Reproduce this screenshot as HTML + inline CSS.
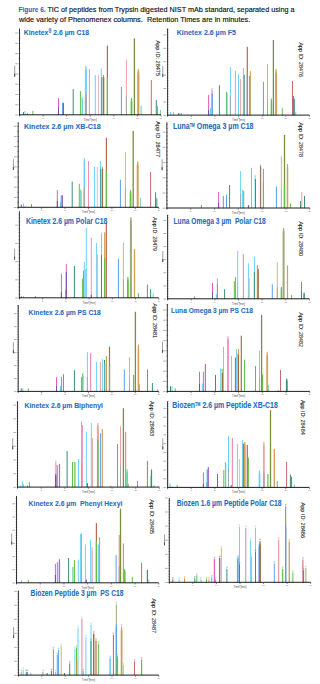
<!DOCTYPE html>
<html><head><meta charset="utf-8"><style>
html,body{margin:0;padding:0;background:#fff;width:319px;height:684px;overflow:hidden}
svg{position:absolute;left:0;top:0} text{white-space:pre;font-family:"Liberation Sans",sans-serif}
</style></head><body>
<svg width="319" height="684" viewBox="0 0 319 684">
<text x="18.6" y="11.8" font-weight="bold" font-size="8.0" fill="#1f6cc1" stroke="#1f6cc1" stroke-width="0.1" textLength="27" lengthAdjust="spacingAndGlyphs">Figure 6.</text>
<text x="47.4" y="11.8" font-size="8.0" fill="#111" stroke="#111" stroke-width="0.16" textLength="247.1" lengthAdjust="spacingAndGlyphs">TIC of peptides from Trypsin digested NIST mAb standard, separated using a</text>
<text x="19" y="21.9" font-size="8.0" fill="#111" stroke="#111" stroke-width="0.16" textLength="231.3" lengthAdjust="spacingAndGlyphs">wide variety of Phenomenex columns.  Retention Times are in minutes.</text>
<rect x="23.00" y="112.00" width="1.00" height="3.00" fill="#3a9078"/>
<rect x="24.50" y="111.00" width="1.00" height="4.00" fill="#6ad2f8"/>
<rect x="26.90" y="113.00" width="1.00" height="2.00" fill="#e88830"/>
<rect x="32.30" y="111.00" width="1.00" height="4.00" fill="#60c048"/>
<rect x="58.00" y="98.10" width="1.00" height="16.90" fill="#e060c0"/>
<rect x="58.00" y="107.00" width="1.00" height="8.00" fill="#7050a8"/>
<rect x="62.10" y="102.80" width="1.00" height="12.20" fill="#5aa0f0"/>
<rect x="62.90" y="102.80" width="1.00" height="12.20" fill="#7050a8"/>
<rect x="72.70" y="89.00" width="1.00" height="26.00" fill="#3a9078"/>
<rect x="79.90" y="91.00" width="1.00" height="24.00" fill="#60c048"/>
<rect x="81.50" y="96.80" width="1.00" height="18.20" fill="#70d8a0"/>
<rect x="82.10" y="99.00" width="1.00" height="16.00" fill="#6ad2f8"/>
<polygon points="85.45,66.00 86.35,66.00 86.90,71.00 86.90,115.0 84.90,115.0 84.90,71.00" fill="#6ad2f8"/>
<polygon points="85.45,93.00 86.35,93.00 86.90,98.00 86.90,115.0 84.90,115.0 84.90,98.00" fill="#a8a8a8"/>
<rect x="88.90" y="69.00" width="1.00" height="46.00" fill="#f090b4"/>
<rect x="94.80" y="75.00" width="1.00" height="40.00" fill="#6ad2f8"/>
<rect x="98.00" y="75.00" width="1.00" height="40.00" fill="#f4b4c8"/>
<rect x="100.80" y="68.60" width="1.00" height="46.40" fill="#6ad2f8"/>
<rect x="101.40" y="77.00" width="1.00" height="38.00" fill="#3a9078"/>
<rect x="103.00" y="75.00" width="1.00" height="40.00" fill="#5aa0f0"/>
<rect x="103.30" y="77.00" width="1.00" height="38.00" fill="#a06838"/>
<rect x="106.80" y="45.60" width="1.20" height="69.40" fill="#b86850"/>
<rect x="106.80" y="77.70" width="1.20" height="37.30" fill="#60c048"/>
<rect x="120.90" y="87.00" width="1.00" height="28.00" fill="#5aa0f0"/>
<rect x="125.90" y="59.70" width="1.00" height="55.30" fill="#eca4a0"/>
<rect x="125.90" y="96.00" width="1.00" height="19.00" fill="#a8a8a8"/>
<polygon points="131.05,98.00 131.95,98.00 132.40,102.25 132.40,115.0 130.60,115.0 130.60,102.25" fill="#60c048"/>
<rect x="133.75" y="38.30" width="1.30" height="76.70" fill="#789040"/>
<polygon points="137.85,69.00 138.75,69.00 139.40,74.00 139.40,115.0 137.20,115.0 137.20,74.00" fill="#d0a058"/>
<rect x="140.60" y="105.60" width="1.00" height="9.40" fill="#70d8a0"/>
<rect x="150.80" y="80.00" width="1.00" height="35.00" fill="#c86a6a"/>
<rect x="155.80" y="100.00" width="1.00" height="15.00" fill="#3a9078"/>
<rect x="156.90" y="106.00" width="1.00" height="9.00" fill="#60c048"/>
<rect x="159.90" y="110.00" width="1.00" height="5.00" fill="#70d8a0"/>
<line x1="18.70" y1="115.00" x2="20.30" y2="115.00" stroke="#555" stroke-width="0.6"/>
<line x1="18.70" y1="109.88" x2="20.30" y2="109.88" stroke="#555" stroke-width="0.6"/>
<line x1="18.70" y1="104.75" x2="20.30" y2="104.75" stroke="#555" stroke-width="0.6"/>
<line x1="18.70" y1="99.62" x2="20.30" y2="99.62" stroke="#555" stroke-width="0.6"/>
<line x1="18.70" y1="94.50" x2="20.30" y2="94.50" stroke="#555" stroke-width="0.6"/>
<line x1="18.70" y1="89.38" x2="20.30" y2="89.38" stroke="#555" stroke-width="0.6"/>
<line x1="18.70" y1="84.25" x2="20.30" y2="84.25" stroke="#555" stroke-width="0.6"/>
<line x1="18.70" y1="79.12" x2="20.30" y2="79.12" stroke="#555" stroke-width="0.6"/>
<line x1="18.70" y1="74.00" x2="20.30" y2="74.00" stroke="#555" stroke-width="0.6"/>
<line x1="18.70" y1="68.88" x2="20.30" y2="68.88" stroke="#555" stroke-width="0.6"/>
<line x1="18.70" y1="63.75" x2="20.30" y2="63.75" stroke="#555" stroke-width="0.6"/>
<line x1="18.70" y1="58.62" x2="20.30" y2="58.62" stroke="#555" stroke-width="0.6"/>
<line x1="18.70" y1="53.50" x2="20.30" y2="53.50" stroke="#555" stroke-width="0.6"/>
<line x1="18.70" y1="48.38" x2="20.30" y2="48.38" stroke="#555" stroke-width="0.6"/>
<line x1="18.70" y1="43.25" x2="20.30" y2="43.25" stroke="#555" stroke-width="0.6"/>
<line x1="18.70" y1="38.12" x2="20.30" y2="38.12" stroke="#555" stroke-width="0.6"/>
<line x1="18.70" y1="33.00" x2="20.30" y2="33.00" stroke="#555" stroke-width="0.6"/>
<line x1="15.30" y1="115.00" x2="17.90" y2="115.00" stroke="#999" stroke-width="0.8"/>
<line x1="15.30" y1="104.75" x2="17.90" y2="104.75" stroke="#999" stroke-width="0.8"/>
<line x1="15.30" y1="94.50" x2="17.90" y2="94.50" stroke="#999" stroke-width="0.8"/>
<line x1="15.30" y1="84.25" x2="17.90" y2="84.25" stroke="#999" stroke-width="0.8"/>
<line x1="15.30" y1="74.00" x2="17.90" y2="74.00" stroke="#999" stroke-width="0.8"/>
<line x1="15.30" y1="63.75" x2="17.90" y2="63.75" stroke="#999" stroke-width="0.8"/>
<line x1="15.30" y1="53.50" x2="17.90" y2="53.50" stroke="#999" stroke-width="0.8"/>
<line x1="15.30" y1="43.25" x2="17.90" y2="43.25" stroke="#999" stroke-width="0.8"/>
<line x1="15.30" y1="33.00" x2="17.90" y2="33.00" stroke="#999" stroke-width="0.8"/>
<line x1="14.70" y1="65.75" x2="14.70" y2="76.75" stroke="#888" stroke-width="0.8"/>
<line x1="14.70" y1="73.75" x2="14.70" y2="76.75" stroke="#444" stroke-width="0.9"/>
<line x1="19.5" y1="28.5" x2="19.5" y2="115.5" stroke="#333" stroke-width="1.0"/>
<line x1="19.0" y1="114.80" x2="161.0" y2="114.80" stroke="#111" stroke-width="0.95"/>
<line x1="19.50" y1="115.0" x2="19.50" y2="116.5" stroke="#333" stroke-width="0.6"/>
<line x1="43.08" y1="115.0" x2="43.08" y2="116.5" stroke="#333" stroke-width="0.6"/>
<text x="43.08" y="118.60" font-size="2.4" fill="#888" text-anchor="middle">5</text>
<line x1="66.67" y1="115.0" x2="66.67" y2="116.5" stroke="#333" stroke-width="0.6"/>
<text x="66.67" y="118.60" font-size="2.4" fill="#888" text-anchor="middle">10</text>
<line x1="90.25" y1="115.0" x2="90.25" y2="116.5" stroke="#333" stroke-width="0.6"/>
<text x="90.25" y="118.60" font-size="2.4" fill="#888" text-anchor="middle">15</text>
<line x1="113.83" y1="115.0" x2="113.83" y2="116.5" stroke="#333" stroke-width="0.6"/>
<text x="113.83" y="118.60" font-size="2.4" fill="#888" text-anchor="middle">20</text>
<line x1="137.42" y1="115.0" x2="137.42" y2="116.5" stroke="#333" stroke-width="0.6"/>
<text x="137.42" y="118.60" font-size="2.4" fill="#888" text-anchor="middle">25</text>
<line x1="161.00" y1="115.0" x2="161.00" y2="116.5" stroke="#333" stroke-width="0.6"/>
<text x="161.00" y="118.60" font-size="2.4" fill="#888" text-anchor="middle">30</text>
<text x="90.25" y="120.60" font-size="2.8" fill="#555" text-anchor="middle">Time [min]</text>
<rect x="170.00" y="112.00" width="1.00" height="3.30" fill="#6ad2f8"/>
<rect x="173.10" y="112.00" width="1.00" height="3.30" fill="#6ad2f8"/>
<rect x="178.30" y="113.00" width="1.00" height="2.30" fill="#7050a8"/>
<rect x="180.60" y="113.00" width="1.00" height="2.30" fill="#60c048"/>
<rect x="208.10" y="95.00" width="1.00" height="20.30" fill="#e060c0"/>
<rect x="208.10" y="110.00" width="1.00" height="5.30" fill="#7050a8"/>
<rect x="210.00" y="108.30" width="1.00" height="7.00" fill="#6ad2f8"/>
<polygon points="211.55,87.90 212.45,87.90 213.00,92.90 213.00,115.3 211.00,115.3 211.00,92.90" fill="#d8b0e4"/>
<rect x="211.80" y="93.40" width="1.00" height="21.90" fill="#5aa0f0"/>
<rect x="218.90" y="85.20" width="1.00" height="30.10" fill="#3a9078"/>
<rect x="226.00" y="91.80" width="1.00" height="23.50" fill="#60c048"/>
<rect x="226.70" y="93.00" width="1.00" height="22.30" fill="#6ad2f8"/>
<rect x="229.90" y="67.10" width="1.00" height="48.20" fill="#6ad2f8"/>
<rect x="229.90" y="95.70" width="1.00" height="19.60" fill="#a8a8a8"/>
<rect x="234.90" y="71.10" width="1.00" height="44.20" fill="#f090b4"/>
<rect x="238.00" y="74.30" width="1.00" height="41.00" fill="#6ad2f8"/>
<rect x="240.10" y="79.00" width="1.00" height="36.30" fill="#eca4a0"/>
<rect x="242.90" y="68.00" width="1.00" height="47.30" fill="#6ad2f8"/>
<rect x="243.70" y="74.90" width="1.00" height="40.40" fill="#3a9078"/>
<rect x="246.70" y="46.80" width="1.20" height="68.50" fill="#b86850"/>
<rect x="246.80" y="75.40" width="1.00" height="39.90" fill="#5aa0f0"/>
<rect x="249.00" y="75.80" width="1.00" height="39.50" fill="#60c048"/>
<rect x="249.90" y="71.10" width="1.00" height="44.20" fill="#d0a058"/>
<rect x="262.90" y="81.80" width="1.00" height="33.50" fill="#5aa0f0"/>
<rect x="267.00" y="64.00" width="1.00" height="51.30" fill="#eca4a0"/>
<rect x="267.00" y="98.40" width="1.00" height="16.90" fill="#a8a8a8"/>
<polygon points="270.95,98.40 271.85,98.40 272.15,102.62 272.15,115.3 270.65,115.3 270.65,102.62" fill="#60c048"/>
<rect x="272.75" y="40.00" width="1.30" height="75.30" fill="#789040"/>
<polygon points="275.65,68.90 276.55,68.90 277.10,73.90 277.10,115.3 275.10,115.3 275.10,73.90" fill="#d0a058"/>
<rect x="281.80" y="108.20" width="1.00" height="7.10" fill="#60c048"/>
<rect x="292.00" y="81.00" width="1.00" height="34.30" fill="#c86a6a"/>
<rect x="292.90" y="96.00" width="1.00" height="19.30" fill="#3a9078"/>
<rect x="293.80" y="98.90" width="1.00" height="16.40" fill="#3a9078"/>
<rect x="295.20" y="111.80" width="1.00" height="3.50" fill="#70d8a0"/>
<line x1="166.80" y1="115.30" x2="168.40" y2="115.30" stroke="#555" stroke-width="0.6"/>
<line x1="166.80" y1="112.62" x2="168.40" y2="112.62" stroke="#555" stroke-width="0.6"/>
<line x1="166.80" y1="109.94" x2="168.40" y2="109.94" stroke="#555" stroke-width="0.6"/>
<line x1="166.80" y1="107.26" x2="168.40" y2="107.26" stroke="#555" stroke-width="0.6"/>
<line x1="166.80" y1="104.58" x2="168.40" y2="104.58" stroke="#555" stroke-width="0.6"/>
<line x1="166.80" y1="101.90" x2="168.40" y2="101.90" stroke="#555" stroke-width="0.6"/>
<line x1="166.80" y1="99.22" x2="168.40" y2="99.22" stroke="#555" stroke-width="0.6"/>
<line x1="166.80" y1="96.54" x2="168.40" y2="96.54" stroke="#555" stroke-width="0.6"/>
<line x1="166.80" y1="93.86" x2="168.40" y2="93.86" stroke="#555" stroke-width="0.6"/>
<line x1="166.80" y1="91.18" x2="168.40" y2="91.18" stroke="#555" stroke-width="0.6"/>
<line x1="166.80" y1="88.50" x2="168.40" y2="88.50" stroke="#555" stroke-width="0.6"/>
<line x1="166.80" y1="85.82" x2="168.40" y2="85.82" stroke="#555" stroke-width="0.6"/>
<line x1="166.80" y1="83.14" x2="168.40" y2="83.14" stroke="#555" stroke-width="0.6"/>
<line x1="166.80" y1="80.46" x2="168.40" y2="80.46" stroke="#555" stroke-width="0.6"/>
<line x1="166.80" y1="77.78" x2="168.40" y2="77.78" stroke="#555" stroke-width="0.6"/>
<line x1="166.80" y1="75.10" x2="168.40" y2="75.10" stroke="#555" stroke-width="0.6"/>
<line x1="166.80" y1="72.42" x2="168.40" y2="72.42" stroke="#555" stroke-width="0.6"/>
<line x1="166.80" y1="69.74" x2="168.40" y2="69.74" stroke="#555" stroke-width="0.6"/>
<line x1="166.80" y1="67.06" x2="168.40" y2="67.06" stroke="#555" stroke-width="0.6"/>
<line x1="166.80" y1="64.38" x2="168.40" y2="64.38" stroke="#555" stroke-width="0.6"/>
<line x1="166.80" y1="61.70" x2="168.40" y2="61.70" stroke="#555" stroke-width="0.6"/>
<line x1="166.80" y1="59.02" x2="168.40" y2="59.02" stroke="#555" stroke-width="0.6"/>
<line x1="166.80" y1="56.34" x2="168.40" y2="56.34" stroke="#555" stroke-width="0.6"/>
<line x1="166.80" y1="53.66" x2="168.40" y2="53.66" stroke="#555" stroke-width="0.6"/>
<line x1="166.80" y1="50.98" x2="168.40" y2="50.98" stroke="#555" stroke-width="0.6"/>
<line x1="166.80" y1="48.30" x2="168.40" y2="48.30" stroke="#555" stroke-width="0.6"/>
<line x1="166.80" y1="45.62" x2="168.40" y2="45.62" stroke="#555" stroke-width="0.6"/>
<line x1="166.80" y1="42.94" x2="168.40" y2="42.94" stroke="#555" stroke-width="0.6"/>
<line x1="166.80" y1="40.26" x2="168.40" y2="40.26" stroke="#555" stroke-width="0.6"/>
<line x1="166.80" y1="37.58" x2="168.40" y2="37.58" stroke="#555" stroke-width="0.6"/>
<line x1="166.80" y1="34.90" x2="168.40" y2="34.90" stroke="#555" stroke-width="0.6"/>
<line x1="166.80" y1="32.22" x2="168.40" y2="32.22" stroke="#555" stroke-width="0.6"/>
<line x1="166.80" y1="29.54" x2="168.40" y2="29.54" stroke="#555" stroke-width="0.6"/>
<line x1="163.40" y1="115.30" x2="166.00" y2="115.30" stroke="#999" stroke-width="0.8"/>
<line x1="163.40" y1="101.90" x2="166.00" y2="101.90" stroke="#999" stroke-width="0.8"/>
<line x1="163.40" y1="88.50" x2="166.00" y2="88.50" stroke="#999" stroke-width="0.8"/>
<line x1="163.40" y1="75.10" x2="166.00" y2="75.10" stroke="#999" stroke-width="0.8"/>
<line x1="163.40" y1="61.70" x2="166.00" y2="61.70" stroke="#999" stroke-width="0.8"/>
<line x1="163.40" y1="48.30" x2="166.00" y2="48.30" stroke="#999" stroke-width="0.8"/>
<line x1="163.40" y1="34.90" x2="166.00" y2="34.90" stroke="#999" stroke-width="0.8"/>
<line x1="162.80" y1="65.90" x2="162.80" y2="76.90" stroke="#888" stroke-width="0.8"/>
<line x1="162.80" y1="73.90" x2="162.80" y2="76.90" stroke="#444" stroke-width="0.9"/>
<line x1="167.6" y1="28.5" x2="167.6" y2="115.8" stroke="#333" stroke-width="1.0"/>
<line x1="167.1" y1="115.10" x2="309.5" y2="115.10" stroke="#111" stroke-width="0.95"/>
<line x1="167.60" y1="115.3" x2="167.60" y2="116.8" stroke="#333" stroke-width="0.6"/>
<line x1="191.25" y1="115.3" x2="191.25" y2="116.8" stroke="#333" stroke-width="0.6"/>
<text x="191.25" y="118.90" font-size="2.4" fill="#888" text-anchor="middle">5</text>
<line x1="214.90" y1="115.3" x2="214.90" y2="116.8" stroke="#333" stroke-width="0.6"/>
<text x="214.90" y="118.90" font-size="2.4" fill="#888" text-anchor="middle">10</text>
<line x1="238.55" y1="115.3" x2="238.55" y2="116.8" stroke="#333" stroke-width="0.6"/>
<text x="238.55" y="118.90" font-size="2.4" fill="#888" text-anchor="middle">15</text>
<line x1="262.20" y1="115.3" x2="262.20" y2="116.8" stroke="#333" stroke-width="0.6"/>
<text x="262.20" y="118.90" font-size="2.4" fill="#888" text-anchor="middle">20</text>
<line x1="285.85" y1="115.3" x2="285.85" y2="116.8" stroke="#333" stroke-width="0.6"/>
<text x="285.85" y="118.90" font-size="2.4" fill="#888" text-anchor="middle">25</text>
<line x1="309.50" y1="115.3" x2="309.50" y2="116.8" stroke="#333" stroke-width="0.6"/>
<text x="309.50" y="118.90" font-size="2.4" fill="#888" text-anchor="middle">30</text>
<text x="238.55" y="120.90" font-size="2.8" fill="#555" text-anchor="middle">Time [min]</text>
<rect x="20.80" y="204.50" width="1.00" height="3.00" fill="#3a9078"/>
<rect x="23.10" y="203.50" width="1.00" height="4.00" fill="#6ad2f8"/>
<rect x="25.20" y="206.50" width="1.00" height="1.00" fill="#e88830"/>
<rect x="31.00" y="204.00" width="1.00" height="3.50" fill="#60c048"/>
<rect x="56.80" y="190.10" width="1.00" height="17.40" fill="#e060c0"/>
<rect x="56.80" y="201.00" width="1.00" height="6.50" fill="#7050a8"/>
<rect x="60.00" y="201.90" width="1.00" height="5.60" fill="#6ad2f8"/>
<rect x="60.70" y="195.60" width="1.00" height="11.90" fill="#5aa0f0"/>
<rect x="61.80" y="195.10" width="1.00" height="12.40" fill="#7050a8"/>
<rect x="71.70" y="181.50" width="1.00" height="26.00" fill="#3a9078"/>
<rect x="78.80" y="183.80" width="1.00" height="23.70" fill="#60c048"/>
<rect x="79.90" y="189.30" width="1.00" height="18.20" fill="#70d8a0"/>
<rect x="80.70" y="190.90" width="1.00" height="16.60" fill="#6ad2f8"/>
<polygon points="83.85,158.00 84.75,158.00 85.05,163.00 85.05,207.5 83.55,207.5 83.55,163.00" fill="#6ad2f8"/>
<polygon points="83.85,187.70 84.75,187.70 85.05,192.65 85.05,207.5 83.55,207.5 83.55,192.65" fill="#a8a8a8"/>
<rect x="88.00" y="161.10" width="1.00" height="46.40" fill="#f090b4"/>
<rect x="94.00" y="166.90" width="1.00" height="40.60" fill="#6ad2f8"/>
<rect x="96.80" y="166.90" width="1.00" height="40.60" fill="#f4b4c8"/>
<rect x="99.90" y="161.10" width="1.00" height="46.40" fill="#6ad2f8"/>
<rect x="100.30" y="169.00" width="1.00" height="38.50" fill="#3a9078"/>
<rect x="101.80" y="166.90" width="1.00" height="40.60" fill="#5aa0f0"/>
<rect x="102.10" y="169.00" width="1.00" height="38.50" fill="#a06838"/>
<rect x="105.80" y="137.80" width="1.20" height="69.70" fill="#b86850"/>
<rect x="105.80" y="170.30" width="1.20" height="37.20" fill="#60c048"/>
<rect x="119.90" y="179.70" width="1.00" height="27.80" fill="#5aa0f0"/>
<rect x="124.90" y="152.00" width="1.00" height="55.50" fill="#eca4a0"/>
<rect x="124.90" y="188.00" width="1.00" height="19.50" fill="#a8a8a8"/>
<polygon points="130.15,190.00 131.05,190.00 131.50,194.38 131.50,207.5 129.70,207.5 129.70,194.38" fill="#60c048"/>
<rect x="132.55" y="130.90" width="1.30" height="76.60" fill="#789040"/>
<polygon points="137.25,161.20 138.15,161.20 138.70,166.20 138.70,207.5 136.70,207.5 136.70,166.20" fill="#d0a058"/>
<rect x="139.90" y="197.90" width="1.00" height="9.60" fill="#70d8a0"/>
<rect x="150.10" y="172.00" width="1.00" height="35.50" fill="#c86a6a"/>
<rect x="155.10" y="192.20" width="1.00" height="15.30" fill="#3a9078"/>
<rect x="156.30" y="198.40" width="1.00" height="9.10" fill="#3a9078"/>
<line x1="17.40" y1="207.50" x2="19.00" y2="207.50" stroke="#555" stroke-width="0.6"/>
<line x1="17.40" y1="202.43" x2="19.00" y2="202.43" stroke="#555" stroke-width="0.6"/>
<line x1="17.40" y1="197.35" x2="19.00" y2="197.35" stroke="#555" stroke-width="0.6"/>
<line x1="17.40" y1="192.28" x2="19.00" y2="192.28" stroke="#555" stroke-width="0.6"/>
<line x1="17.40" y1="187.20" x2="19.00" y2="187.20" stroke="#555" stroke-width="0.6"/>
<line x1="17.40" y1="182.12" x2="19.00" y2="182.12" stroke="#555" stroke-width="0.6"/>
<line x1="17.40" y1="177.05" x2="19.00" y2="177.05" stroke="#555" stroke-width="0.6"/>
<line x1="17.40" y1="171.97" x2="19.00" y2="171.97" stroke="#555" stroke-width="0.6"/>
<line x1="17.40" y1="166.90" x2="19.00" y2="166.90" stroke="#555" stroke-width="0.6"/>
<line x1="17.40" y1="161.82" x2="19.00" y2="161.82" stroke="#555" stroke-width="0.6"/>
<line x1="17.40" y1="156.75" x2="19.00" y2="156.75" stroke="#555" stroke-width="0.6"/>
<line x1="17.40" y1="151.68" x2="19.00" y2="151.68" stroke="#555" stroke-width="0.6"/>
<line x1="17.40" y1="146.60" x2="19.00" y2="146.60" stroke="#555" stroke-width="0.6"/>
<line x1="17.40" y1="141.52" x2="19.00" y2="141.52" stroke="#555" stroke-width="0.6"/>
<line x1="17.40" y1="136.45" x2="19.00" y2="136.45" stroke="#555" stroke-width="0.6"/>
<line x1="17.40" y1="131.38" x2="19.00" y2="131.38" stroke="#555" stroke-width="0.6"/>
<line x1="17.40" y1="126.30" x2="19.00" y2="126.30" stroke="#555" stroke-width="0.6"/>
<line x1="14.00" y1="207.50" x2="16.60" y2="207.50" stroke="#999" stroke-width="0.8"/>
<line x1="14.00" y1="197.35" x2="16.60" y2="197.35" stroke="#999" stroke-width="0.8"/>
<line x1="14.00" y1="187.20" x2="16.60" y2="187.20" stroke="#999" stroke-width="0.8"/>
<line x1="14.00" y1="177.05" x2="16.60" y2="177.05" stroke="#999" stroke-width="0.8"/>
<line x1="14.00" y1="166.90" x2="16.60" y2="166.90" stroke="#999" stroke-width="0.8"/>
<line x1="14.00" y1="156.75" x2="16.60" y2="156.75" stroke="#999" stroke-width="0.8"/>
<line x1="14.00" y1="146.60" x2="16.60" y2="146.60" stroke="#999" stroke-width="0.8"/>
<line x1="14.00" y1="136.45" x2="16.60" y2="136.45" stroke="#999" stroke-width="0.8"/>
<line x1="14.00" y1="126.30" x2="16.60" y2="126.30" stroke="#999" stroke-width="0.8"/>
<line x1="13.40" y1="158.85" x2="13.40" y2="169.85" stroke="#888" stroke-width="0.8"/>
<line x1="13.40" y1="166.85" x2="13.40" y2="169.85" stroke="#444" stroke-width="0.9"/>
<line x1="18.2" y1="122.2" x2="18.2" y2="208.0" stroke="#333" stroke-width="1.0"/>
<line x1="17.7" y1="207.30" x2="158.8" y2="207.30" stroke="#111" stroke-width="0.95"/>
<line x1="18.20" y1="207.5" x2="18.20" y2="209.0" stroke="#333" stroke-width="0.6"/>
<line x1="41.63" y1="207.5" x2="41.63" y2="209.0" stroke="#333" stroke-width="0.6"/>
<text x="41.63" y="211.10" font-size="2.4" fill="#888" text-anchor="middle">5</text>
<line x1="65.07" y1="207.5" x2="65.07" y2="209.0" stroke="#333" stroke-width="0.6"/>
<text x="65.07" y="211.10" font-size="2.4" fill="#888" text-anchor="middle">10</text>
<line x1="88.50" y1="207.5" x2="88.50" y2="209.0" stroke="#333" stroke-width="0.6"/>
<text x="88.50" y="211.10" font-size="2.4" fill="#888" text-anchor="middle">15</text>
<line x1="111.93" y1="207.5" x2="111.93" y2="209.0" stroke="#333" stroke-width="0.6"/>
<text x="111.93" y="211.10" font-size="2.4" fill="#888" text-anchor="middle">20</text>
<line x1="135.37" y1="207.5" x2="135.37" y2="209.0" stroke="#333" stroke-width="0.6"/>
<text x="135.37" y="211.10" font-size="2.4" fill="#888" text-anchor="middle">25</text>
<line x1="158.80" y1="207.5" x2="158.80" y2="209.0" stroke="#333" stroke-width="0.6"/>
<text x="158.80" y="211.10" font-size="2.4" fill="#888" text-anchor="middle">30</text>
<text x="88.50" y="213.10" font-size="2.8" fill="#555" text-anchor="middle">Time [min]</text>
<rect x="200.90" y="205.00" width="1.00" height="3.20" fill="#60c048"/>
<rect x="218.10" y="192.00" width="1.00" height="16.20" fill="#e060c0"/>
<rect x="218.10" y="203.00" width="1.00" height="5.20" fill="#7050a8"/>
<rect x="222.80" y="195.90" width="1.00" height="12.30" fill="#b070d0"/>
<rect x="226.00" y="194.80" width="1.00" height="13.40" fill="#5aa0f0"/>
<rect x="229.10" y="185.00" width="1.00" height="23.20" fill="#3a9078"/>
<rect x="240.10" y="171.00" width="1.00" height="37.20" fill="#6ad2f8"/>
<rect x="240.10" y="194.00" width="1.00" height="14.20" fill="#a8a8a8"/>
<rect x="242.10" y="190.00" width="1.00" height="18.20" fill="#6ad2f8"/>
<rect x="243.20" y="190.90" width="1.00" height="17.30" fill="#60c048"/>
<rect x="247.90" y="205.00" width="1.00" height="3.20" fill="#7050a8"/>
<rect x="251.00" y="167.80" width="1.00" height="40.40" fill="#f090b4"/>
<rect x="254.60" y="175.20" width="1.00" height="33.00" fill="#6ad2f8"/>
<rect x="255.00" y="179.10" width="1.00" height="29.10" fill="#3a9078"/>
<rect x="259.90" y="164.50" width="1.00" height="43.70" fill="#6ad2f8"/>
<rect x="260.20" y="166.20" width="1.00" height="42.00" fill="#a06838"/>
<rect x="262.90" y="168.90" width="1.00" height="39.30" fill="#5aa0f0"/>
<rect x="262.90" y="182.30" width="1.00" height="25.90" fill="#60c048"/>
<rect x="275.90" y="186.30" width="1.00" height="21.90" fill="#5aa0f0"/>
<rect x="280.90" y="156.40" width="1.00" height="51.80" fill="#eca4a0"/>
<rect x="280.90" y="190.40" width="1.00" height="17.80" fill="#6ad2f8"/>
<rect x="283.85" y="135.00" width="1.30" height="73.20" fill="#789040"/>
<rect x="283.85" y="185.00" width="1.30" height="23.20" fill="#60c048"/>
<polygon points="287.05,164.10 287.95,164.10 288.25,169.10 288.25,208.2 286.75,208.2 286.75,169.10" fill="#d0a058"/>
<rect x="289.90" y="203.40" width="1.00" height="4.80" fill="#60c048"/>
<rect x="300.10" y="201.00" width="1.00" height="7.20" fill="#3a9078"/>
<rect x="301.30" y="192.20" width="1.00" height="16.00" fill="#eca4a0"/>
<rect x="304.00" y="196.00" width="1.00" height="12.20" fill="#3a9078"/>
<line x1="166.10" y1="208.20" x2="167.70" y2="208.20" stroke="#555" stroke-width="0.6"/>
<line x1="166.10" y1="204.40" x2="167.70" y2="204.40" stroke="#555" stroke-width="0.6"/>
<line x1="166.10" y1="200.60" x2="167.70" y2="200.60" stroke="#555" stroke-width="0.6"/>
<line x1="166.10" y1="196.80" x2="167.70" y2="196.80" stroke="#555" stroke-width="0.6"/>
<line x1="166.10" y1="193.00" x2="167.70" y2="193.00" stroke="#555" stroke-width="0.6"/>
<line x1="166.10" y1="189.20" x2="167.70" y2="189.20" stroke="#555" stroke-width="0.6"/>
<line x1="166.10" y1="185.40" x2="167.70" y2="185.40" stroke="#555" stroke-width="0.6"/>
<line x1="166.10" y1="181.60" x2="167.70" y2="181.60" stroke="#555" stroke-width="0.6"/>
<line x1="166.10" y1="177.80" x2="167.70" y2="177.80" stroke="#555" stroke-width="0.6"/>
<line x1="166.10" y1="174.00" x2="167.70" y2="174.00" stroke="#555" stroke-width="0.6"/>
<line x1="166.10" y1="170.20" x2="167.70" y2="170.20" stroke="#555" stroke-width="0.6"/>
<line x1="166.10" y1="166.40" x2="167.70" y2="166.40" stroke="#555" stroke-width="0.6"/>
<line x1="166.10" y1="162.60" x2="167.70" y2="162.60" stroke="#555" stroke-width="0.6"/>
<line x1="166.10" y1="158.80" x2="167.70" y2="158.80" stroke="#555" stroke-width="0.6"/>
<line x1="166.10" y1="155.00" x2="167.70" y2="155.00" stroke="#555" stroke-width="0.6"/>
<line x1="166.10" y1="151.20" x2="167.70" y2="151.20" stroke="#555" stroke-width="0.6"/>
<line x1="166.10" y1="147.40" x2="167.70" y2="147.40" stroke="#555" stroke-width="0.6"/>
<line x1="166.10" y1="143.60" x2="167.70" y2="143.60" stroke="#555" stroke-width="0.6"/>
<line x1="166.10" y1="139.80" x2="167.70" y2="139.80" stroke="#555" stroke-width="0.6"/>
<line x1="166.10" y1="136.00" x2="167.70" y2="136.00" stroke="#555" stroke-width="0.6"/>
<line x1="166.10" y1="132.20" x2="167.70" y2="132.20" stroke="#555" stroke-width="0.6"/>
<line x1="166.10" y1="128.40" x2="167.70" y2="128.40" stroke="#555" stroke-width="0.6"/>
<line x1="166.10" y1="124.60" x2="167.70" y2="124.60" stroke="#555" stroke-width="0.6"/>
<line x1="162.70" y1="208.20" x2="165.30" y2="208.20" stroke="#999" stroke-width="0.8"/>
<line x1="162.70" y1="193.00" x2="165.30" y2="193.00" stroke="#999" stroke-width="0.8"/>
<line x1="162.70" y1="177.80" x2="165.30" y2="177.80" stroke="#999" stroke-width="0.8"/>
<line x1="162.70" y1="162.60" x2="165.30" y2="162.60" stroke="#999" stroke-width="0.8"/>
<line x1="162.70" y1="147.40" x2="165.30" y2="147.40" stroke="#999" stroke-width="0.8"/>
<line x1="162.70" y1="132.20" x2="165.30" y2="132.20" stroke="#999" stroke-width="0.8"/>
<line x1="162.10" y1="159.20" x2="162.10" y2="170.20" stroke="#888" stroke-width="0.8"/>
<line x1="162.10" y1="167.20" x2="162.10" y2="170.20" stroke="#444" stroke-width="0.9"/>
<line x1="166.9" y1="122.2" x2="166.9" y2="208.7" stroke="#333" stroke-width="1.0"/>
<line x1="166.4" y1="208.00" x2="309.8" y2="208.00" stroke="#111" stroke-width="0.95"/>
<line x1="166.90" y1="208.2" x2="166.90" y2="209.7" stroke="#333" stroke-width="0.6"/>
<line x1="190.72" y1="208.2" x2="190.72" y2="209.7" stroke="#333" stroke-width="0.6"/>
<text x="190.72" y="211.80" font-size="2.4" fill="#888" text-anchor="middle">5</text>
<line x1="214.53" y1="208.2" x2="214.53" y2="209.7" stroke="#333" stroke-width="0.6"/>
<text x="214.53" y="211.80" font-size="2.4" fill="#888" text-anchor="middle">10</text>
<line x1="238.35" y1="208.2" x2="238.35" y2="209.7" stroke="#333" stroke-width="0.6"/>
<text x="238.35" y="211.80" font-size="2.4" fill="#888" text-anchor="middle">15</text>
<line x1="262.17" y1="208.2" x2="262.17" y2="209.7" stroke="#333" stroke-width="0.6"/>
<text x="262.17" y="211.80" font-size="2.4" fill="#888" text-anchor="middle">20</text>
<line x1="285.98" y1="208.2" x2="285.98" y2="209.7" stroke="#333" stroke-width="0.6"/>
<text x="285.98" y="211.80" font-size="2.4" fill="#888" text-anchor="middle">25</text>
<line x1="309.80" y1="208.2" x2="309.80" y2="209.7" stroke="#333" stroke-width="0.6"/>
<text x="309.80" y="211.80" font-size="2.4" fill="#888" text-anchor="middle">30</text>
<text x="238.35" y="213.80" font-size="2.8" fill="#555" text-anchor="middle">Time [min]</text>
<rect x="20.80" y="296.00" width="1.00" height="2.00" fill="#e88830"/>
<rect x="23.10" y="296.00" width="1.00" height="2.00" fill="#6ad2f8"/>
<rect x="34.90" y="296.00" width="1.00" height="2.00" fill="#60c048"/>
<rect x="60.90" y="273.80" width="1.00" height="24.20" fill="#e060c0"/>
<rect x="60.90" y="291.90" width="1.00" height="6.10" fill="#7050a8"/>
<rect x="65.00" y="289.50" width="1.00" height="8.50" fill="#6ad2f8"/>
<rect x="65.80" y="264.10" width="1.00" height="33.90" fill="#e060c0"/>
<rect x="65.80" y="272.00" width="1.00" height="26.00" fill="#7050a8"/>
<rect x="73.90" y="266.00" width="1.00" height="32.00" fill="#3a9078"/>
<rect x="81.90" y="278.50" width="1.00" height="19.50" fill="#60c048"/>
<rect x="83.00" y="270.70" width="1.00" height="27.30" fill="#60c048"/>
<rect x="83.80" y="262.00" width="1.00" height="36.00" fill="#6ad2f8"/>
<rect x="85.40" y="269.00" width="1.00" height="29.00" fill="#a8a8a8"/>
<rect x="85.80" y="228.00" width="1.00" height="70.00" fill="#6ad2f8"/>
<rect x="90.80" y="237.80" width="1.00" height="60.20" fill="#f090b4"/>
<rect x="90.80" y="295.00" width="1.00" height="3.00" fill="#7050a8"/>
<rect x="95.90" y="242.80" width="1.00" height="55.20" fill="#6ad2f8"/>
<rect x="96.80" y="254.70" width="1.00" height="43.30" fill="#eca4a0"/>
<rect x="101.00" y="232.80" width="1.00" height="65.20" fill="#6ad2f8"/>
<rect x="101.00" y="255.00" width="1.00" height="43.00" fill="#3a9078"/>
<rect x="104.10" y="232.30" width="1.20" height="65.70" fill="#d0a058"/>
<rect x="104.10" y="258.20" width="1.20" height="39.80" fill="#60c048"/>
<rect x="105.70" y="222.60" width="1.20" height="75.40" fill="#b86850"/>
<rect x="117.90" y="258.90" width="1.00" height="39.10" fill="#5aa0f0"/>
<rect x="122.90" y="242.80" width="1.00" height="55.20" fill="#eca4a0"/>
<rect x="122.90" y="279.50" width="1.00" height="18.50" fill="#a8a8a8"/>
<polygon points="127.45,276.80 128.35,276.80 128.80,281.80 128.80,298.0 127.00,298.0 127.00,281.80" fill="#60c048"/>
<polygon points="130.45,216.90 131.35,216.90 131.90,221.90 131.90,298.0 129.90,298.0 129.90,221.90" fill="#a0a878"/>
<rect x="133.85" y="249.10" width="1.30" height="48.90" fill="#d0a058"/>
<rect x="137.90" y="292.90" width="1.00" height="5.10" fill="#60c048"/>
<rect x="146.90" y="284.50" width="1.00" height="13.50" fill="#c86a6a"/>
<rect x="150.10" y="289.30" width="1.00" height="8.70" fill="#3a9078"/>
<rect x="152.70" y="293.40" width="1.00" height="4.60" fill="#70d8a0"/>
<line x1="18.60" y1="298.00" x2="20.20" y2="298.00" stroke="#555" stroke-width="0.6"/>
<line x1="18.60" y1="294.36" x2="20.20" y2="294.36" stroke="#555" stroke-width="0.6"/>
<line x1="18.60" y1="290.72" x2="20.20" y2="290.72" stroke="#555" stroke-width="0.6"/>
<line x1="18.60" y1="287.08" x2="20.20" y2="287.08" stroke="#555" stroke-width="0.6"/>
<line x1="18.60" y1="283.44" x2="20.20" y2="283.44" stroke="#555" stroke-width="0.6"/>
<line x1="18.60" y1="279.80" x2="20.20" y2="279.80" stroke="#555" stroke-width="0.6"/>
<line x1="18.60" y1="276.16" x2="20.20" y2="276.16" stroke="#555" stroke-width="0.6"/>
<line x1="18.60" y1="272.52" x2="20.20" y2="272.52" stroke="#555" stroke-width="0.6"/>
<line x1="18.60" y1="268.88" x2="20.20" y2="268.88" stroke="#555" stroke-width="0.6"/>
<line x1="18.60" y1="265.24" x2="20.20" y2="265.24" stroke="#555" stroke-width="0.6"/>
<line x1="18.60" y1="261.60" x2="20.20" y2="261.60" stroke="#555" stroke-width="0.6"/>
<line x1="18.60" y1="257.96" x2="20.20" y2="257.96" stroke="#555" stroke-width="0.6"/>
<line x1="18.60" y1="254.32" x2="20.20" y2="254.32" stroke="#555" stroke-width="0.6"/>
<line x1="18.60" y1="250.68" x2="20.20" y2="250.68" stroke="#555" stroke-width="0.6"/>
<line x1="18.60" y1="247.04" x2="20.20" y2="247.04" stroke="#555" stroke-width="0.6"/>
<line x1="18.60" y1="243.40" x2="20.20" y2="243.40" stroke="#555" stroke-width="0.6"/>
<line x1="18.60" y1="239.76" x2="20.20" y2="239.76" stroke="#555" stroke-width="0.6"/>
<line x1="18.60" y1="236.12" x2="20.20" y2="236.12" stroke="#555" stroke-width="0.6"/>
<line x1="18.60" y1="232.48" x2="20.20" y2="232.48" stroke="#555" stroke-width="0.6"/>
<line x1="18.60" y1="228.84" x2="20.20" y2="228.84" stroke="#555" stroke-width="0.6"/>
<line x1="18.60" y1="225.20" x2="20.20" y2="225.20" stroke="#555" stroke-width="0.6"/>
<line x1="18.60" y1="221.56" x2="20.20" y2="221.56" stroke="#555" stroke-width="0.6"/>
<line x1="18.60" y1="217.92" x2="20.20" y2="217.92" stroke="#555" stroke-width="0.6"/>
<line x1="18.60" y1="214.28" x2="20.20" y2="214.28" stroke="#555" stroke-width="0.6"/>
<line x1="15.20" y1="298.00" x2="17.80" y2="298.00" stroke="#999" stroke-width="0.8"/>
<line x1="15.20" y1="279.80" x2="17.80" y2="279.80" stroke="#999" stroke-width="0.8"/>
<line x1="15.20" y1="261.60" x2="17.80" y2="261.60" stroke="#999" stroke-width="0.8"/>
<line x1="15.20" y1="243.40" x2="17.80" y2="243.40" stroke="#999" stroke-width="0.8"/>
<line x1="15.20" y1="225.20" x2="17.80" y2="225.20" stroke="#999" stroke-width="0.8"/>
<line x1="14.60" y1="248.65" x2="14.60" y2="259.65" stroke="#888" stroke-width="0.8"/>
<line x1="14.60" y1="256.65" x2="14.60" y2="259.65" stroke="#444" stroke-width="0.9"/>
<line x1="19.4" y1="211.3" x2="19.4" y2="298.5" stroke="#333" stroke-width="1.0"/>
<line x1="18.9" y1="297.80" x2="158.8" y2="297.80" stroke="#111" stroke-width="0.95"/>
<line x1="19.40" y1="298.0" x2="19.40" y2="299.5" stroke="#333" stroke-width="0.6"/>
<line x1="42.63" y1="298.0" x2="42.63" y2="299.5" stroke="#333" stroke-width="0.6"/>
<text x="42.63" y="301.60" font-size="2.4" fill="#888" text-anchor="middle">5</text>
<line x1="65.87" y1="298.0" x2="65.87" y2="299.5" stroke="#333" stroke-width="0.6"/>
<text x="65.87" y="301.60" font-size="2.4" fill="#888" text-anchor="middle">10</text>
<line x1="89.10" y1="298.0" x2="89.10" y2="299.5" stroke="#333" stroke-width="0.6"/>
<text x="89.10" y="301.60" font-size="2.4" fill="#888" text-anchor="middle">15</text>
<line x1="112.33" y1="298.0" x2="112.33" y2="299.5" stroke="#333" stroke-width="0.6"/>
<text x="112.33" y="301.60" font-size="2.4" fill="#888" text-anchor="middle">20</text>
<line x1="135.57" y1="298.0" x2="135.57" y2="299.5" stroke="#333" stroke-width="0.6"/>
<text x="135.57" y="301.60" font-size="2.4" fill="#888" text-anchor="middle">25</text>
<line x1="158.80" y1="298.0" x2="158.80" y2="299.5" stroke="#333" stroke-width="0.6"/>
<text x="158.80" y="301.60" font-size="2.4" fill="#888" text-anchor="middle">30</text>
<text x="89.10" y="303.60" font-size="2.8" fill="#555" text-anchor="middle">Time [min]</text>
<rect x="194.00" y="296.50" width="1.00" height="2.50" fill="#60c048"/>
<rect x="212.00" y="282.90" width="1.00" height="16.10" fill="#e060c0"/>
<rect x="212.00" y="292.00" width="1.00" height="7.00" fill="#7050a8"/>
<rect x="215.80" y="294.00" width="1.00" height="5.00" fill="#6ad2f8"/>
<rect x="216.90" y="278.50" width="1.00" height="20.50" fill="#f090b4"/>
<rect x="216.90" y="284.00" width="1.00" height="15.00" fill="#5aa0f0"/>
<rect x="224.10" y="289.20" width="1.00" height="9.80" fill="#3a9078"/>
<rect x="233.80" y="281.30" width="1.00" height="17.70" fill="#60c048"/>
<rect x="234.90" y="277.00" width="1.00" height="22.00" fill="#60c048"/>
<rect x="236.90" y="282.90" width="1.00" height="16.10" fill="#a8a8a8"/>
<rect x="237.20" y="251.00" width="1.00" height="48.00" fill="#6ad2f8"/>
<rect x="242.80" y="254.20" width="1.20" height="44.80" fill="#f090b4"/>
<rect x="247.90" y="263.30" width="1.00" height="35.70" fill="#6ad2f8"/>
<rect x="248.70" y="278.20" width="1.00" height="20.80" fill="#eca4a0"/>
<rect x="253.90" y="256.70" width="1.00" height="42.30" fill="#6ad2f8"/>
<rect x="253.90" y="271.90" width="1.00" height="27.10" fill="#3a9078"/>
<rect x="256.80" y="265.00" width="1.20" height="34.00" fill="#d0a058"/>
<rect x="257.60" y="269.00" width="1.20" height="30.00" fill="#a06838"/>
<rect x="271.80" y="284.20" width="1.00" height="14.80" fill="#5aa0f0"/>
<rect x="276.80" y="262.20" width="1.00" height="36.80" fill="#eca4a0"/>
<rect x="276.80" y="287.20" width="1.00" height="11.80" fill="#a8a8a8"/>
<polygon points="280.95,286.80 281.85,286.80 282.15,289.85 282.15,299.0 280.65,299.0 280.65,289.85" fill="#60c048"/>
<polygon points="283.15,227.90 284.05,227.90 284.60,232.90 284.60,299.0 282.60,299.0 282.60,232.90" fill="#a0a878"/>
<rect x="286.90" y="265.40" width="1.20" height="33.60" fill="#d0a058"/>
<rect x="291.10" y="294.90" width="1.00" height="4.10" fill="#60c048"/>
<rect x="301.00" y="282.00" width="1.00" height="17.00" fill="#c86a6a"/>
<rect x="301.00" y="291.00" width="1.00" height="8.00" fill="#3a9078"/>
<polygon points="303.65,292.60 304.55,292.60 304.85,294.20 304.85,299.0 303.35,299.0 303.35,294.20" fill="#3a9078"/>
<line x1="166.80" y1="299.00" x2="168.40" y2="299.00" stroke="#555" stroke-width="0.6"/>
<line x1="166.80" y1="296.38" x2="168.40" y2="296.38" stroke="#555" stroke-width="0.6"/>
<line x1="166.80" y1="293.76" x2="168.40" y2="293.76" stroke="#555" stroke-width="0.6"/>
<line x1="166.80" y1="291.14" x2="168.40" y2="291.14" stroke="#555" stroke-width="0.6"/>
<line x1="166.80" y1="288.52" x2="168.40" y2="288.52" stroke="#555" stroke-width="0.6"/>
<line x1="166.80" y1="285.90" x2="168.40" y2="285.90" stroke="#555" stroke-width="0.6"/>
<line x1="166.80" y1="283.28" x2="168.40" y2="283.28" stroke="#555" stroke-width="0.6"/>
<line x1="166.80" y1="280.66" x2="168.40" y2="280.66" stroke="#555" stroke-width="0.6"/>
<line x1="166.80" y1="278.04" x2="168.40" y2="278.04" stroke="#555" stroke-width="0.6"/>
<line x1="166.80" y1="275.42" x2="168.40" y2="275.42" stroke="#555" stroke-width="0.6"/>
<line x1="166.80" y1="272.80" x2="168.40" y2="272.80" stroke="#555" stroke-width="0.6"/>
<line x1="166.80" y1="270.18" x2="168.40" y2="270.18" stroke="#555" stroke-width="0.6"/>
<line x1="166.80" y1="267.56" x2="168.40" y2="267.56" stroke="#555" stroke-width="0.6"/>
<line x1="166.80" y1="264.94" x2="168.40" y2="264.94" stroke="#555" stroke-width="0.6"/>
<line x1="166.80" y1="262.32" x2="168.40" y2="262.32" stroke="#555" stroke-width="0.6"/>
<line x1="166.80" y1="259.70" x2="168.40" y2="259.70" stroke="#555" stroke-width="0.6"/>
<line x1="166.80" y1="257.08" x2="168.40" y2="257.08" stroke="#555" stroke-width="0.6"/>
<line x1="166.80" y1="254.46" x2="168.40" y2="254.46" stroke="#555" stroke-width="0.6"/>
<line x1="166.80" y1="251.84" x2="168.40" y2="251.84" stroke="#555" stroke-width="0.6"/>
<line x1="166.80" y1="249.22" x2="168.40" y2="249.22" stroke="#555" stroke-width="0.6"/>
<line x1="166.80" y1="246.60" x2="168.40" y2="246.60" stroke="#555" stroke-width="0.6"/>
<line x1="166.80" y1="243.98" x2="168.40" y2="243.98" stroke="#555" stroke-width="0.6"/>
<line x1="166.80" y1="241.36" x2="168.40" y2="241.36" stroke="#555" stroke-width="0.6"/>
<line x1="166.80" y1="238.74" x2="168.40" y2="238.74" stroke="#555" stroke-width="0.6"/>
<line x1="166.80" y1="236.12" x2="168.40" y2="236.12" stroke="#555" stroke-width="0.6"/>
<line x1="166.80" y1="233.50" x2="168.40" y2="233.50" stroke="#555" stroke-width="0.6"/>
<line x1="166.80" y1="230.88" x2="168.40" y2="230.88" stroke="#555" stroke-width="0.6"/>
<line x1="166.80" y1="228.26" x2="168.40" y2="228.26" stroke="#555" stroke-width="0.6"/>
<line x1="166.80" y1="225.64" x2="168.40" y2="225.64" stroke="#555" stroke-width="0.6"/>
<line x1="166.80" y1="223.02" x2="168.40" y2="223.02" stroke="#555" stroke-width="0.6"/>
<line x1="166.80" y1="220.40" x2="168.40" y2="220.40" stroke="#555" stroke-width="0.6"/>
<line x1="166.80" y1="217.78" x2="168.40" y2="217.78" stroke="#555" stroke-width="0.6"/>
<line x1="166.80" y1="215.16" x2="168.40" y2="215.16" stroke="#555" stroke-width="0.6"/>
<line x1="163.40" y1="299.00" x2="166.00" y2="299.00" stroke="#999" stroke-width="0.8"/>
<line x1="163.40" y1="285.90" x2="166.00" y2="285.90" stroke="#999" stroke-width="0.8"/>
<line x1="163.40" y1="272.80" x2="166.00" y2="272.80" stroke="#999" stroke-width="0.8"/>
<line x1="163.40" y1="259.70" x2="166.00" y2="259.70" stroke="#999" stroke-width="0.8"/>
<line x1="163.40" y1="246.60" x2="166.00" y2="246.60" stroke="#999" stroke-width="0.8"/>
<line x1="163.40" y1="233.50" x2="166.00" y2="233.50" stroke="#999" stroke-width="0.8"/>
<line x1="163.40" y1="220.40" x2="166.00" y2="220.40" stroke="#999" stroke-width="0.8"/>
<line x1="162.80" y1="251.00" x2="162.80" y2="262.00" stroke="#888" stroke-width="0.8"/>
<line x1="162.80" y1="259.00" x2="162.80" y2="262.00" stroke="#444" stroke-width="0.9"/>
<line x1="167.6" y1="215.0" x2="167.6" y2="299.5" stroke="#333" stroke-width="1.0"/>
<line x1="167.1" y1="298.80" x2="309.4" y2="298.80" stroke="#111" stroke-width="0.95"/>
<line x1="167.60" y1="299.0" x2="167.60" y2="300.5" stroke="#333" stroke-width="0.6"/>
<line x1="191.23" y1="299.0" x2="191.23" y2="300.5" stroke="#333" stroke-width="0.6"/>
<text x="191.23" y="302.60" font-size="2.4" fill="#888" text-anchor="middle">5</text>
<line x1="214.87" y1="299.0" x2="214.87" y2="300.5" stroke="#333" stroke-width="0.6"/>
<text x="214.87" y="302.60" font-size="2.4" fill="#888" text-anchor="middle">10</text>
<line x1="238.50" y1="299.0" x2="238.50" y2="300.5" stroke="#333" stroke-width="0.6"/>
<text x="238.50" y="302.60" font-size="2.4" fill="#888" text-anchor="middle">15</text>
<line x1="262.13" y1="299.0" x2="262.13" y2="300.5" stroke="#333" stroke-width="0.6"/>
<text x="262.13" y="302.60" font-size="2.4" fill="#888" text-anchor="middle">20</text>
<line x1="285.77" y1="299.0" x2="285.77" y2="300.5" stroke="#333" stroke-width="0.6"/>
<text x="285.77" y="302.60" font-size="2.4" fill="#888" text-anchor="middle">25</text>
<line x1="309.40" y1="299.0" x2="309.40" y2="300.5" stroke="#333" stroke-width="0.6"/>
<text x="309.40" y="302.60" font-size="2.4" fill="#888" text-anchor="middle">30</text>
<text x="238.50" y="304.60" font-size="2.8" fill="#555" text-anchor="middle">Time [min]</text>
<rect x="20.80" y="388.30" width="1.00" height="3.30" fill="#3a9078"/>
<rect x="22.30" y="388.30" width="1.00" height="3.30" fill="#6ad2f8"/>
<rect x="27.80" y="388.30" width="1.00" height="3.30" fill="#60c048"/>
<rect x="56.00" y="377.20" width="1.00" height="14.40" fill="#e060c0"/>
<rect x="56.00" y="386.00" width="1.00" height="5.60" fill="#7050a8"/>
<rect x="60.00" y="385.90" width="1.00" height="5.70" fill="#6ad2f8"/>
<rect x="61.10" y="376.90" width="1.00" height="14.70" fill="#5aa0f0"/>
<rect x="63.00" y="374.10" width="1.00" height="17.50" fill="#b070d0"/>
<rect x="73.90" y="370.20" width="1.00" height="21.40" fill="#3a9078"/>
<rect x="81.10" y="376.90" width="1.00" height="14.70" fill="#60c048"/>
<rect x="82.20" y="373.30" width="1.00" height="18.30" fill="#60c048"/>
<rect x="82.70" y="376.00" width="1.00" height="15.60" fill="#6ad2f8"/>
<rect x="86.90" y="352.20" width="1.00" height="39.40" fill="#6ad2f8"/>
<rect x="86.90" y="377.00" width="1.00" height="14.60" fill="#a8a8a8"/>
<rect x="90.00" y="353.00" width="1.20" height="38.60" fill="#f090b4"/>
<rect x="95.90" y="361.90" width="1.00" height="29.70" fill="#6ad2f8"/>
<rect x="99.90" y="362.30" width="1.00" height="29.30" fill="#eca4a0"/>
<rect x="101.80" y="359.20" width="1.00" height="32.40" fill="#6ad2f8"/>
<rect x="104.00" y="360.00" width="1.00" height="31.60" fill="#3a9078"/>
<rect x="104.50" y="363.60" width="1.00" height="28.00" fill="#6ad2f8"/>
<rect x="105.80" y="356.00" width="1.20" height="35.60" fill="#d0a058"/>
<rect x="108.90" y="346.70" width="1.20" height="44.90" fill="#b86850"/>
<rect x="108.90" y="366.30" width="1.20" height="25.30" fill="#60c048"/>
<rect x="123.80" y="369.50" width="1.00" height="22.10" fill="#5aa0f0"/>
<rect x="129.00" y="357.00" width="1.00" height="34.60" fill="#eca4a0"/>
<rect x="129.00" y="378.00" width="1.00" height="13.60" fill="#a8a8a8"/>
<rect x="133.00" y="374.90" width="1.20" height="16.70" fill="#60c048"/>
<rect x="134.75" y="311.80" width="1.30" height="79.80" fill="#789040"/>
<polygon points="137.95,344.40 138.85,344.40 139.15,349.40 139.15,391.6 137.65,391.6 137.65,349.40" fill="#d0a058"/>
<rect x="139.00" y="384.20" width="1.00" height="7.40" fill="#70d8a0"/>
<rect x="147.00" y="369.50" width="1.00" height="22.10" fill="#c86a6a"/>
<rect x="151.90" y="383.00" width="1.00" height="8.60" fill="#3a9078"/>
<rect x="157.20" y="389.00" width="1.00" height="2.60" fill="#6ad2f8"/>
<line x1="17.40" y1="391.60" x2="19.00" y2="391.60" stroke="#555" stroke-width="0.6"/>
<line x1="17.40" y1="389.00" x2="19.00" y2="389.00" stroke="#555" stroke-width="0.6"/>
<line x1="17.40" y1="386.40" x2="19.00" y2="386.40" stroke="#555" stroke-width="0.6"/>
<line x1="17.40" y1="383.80" x2="19.00" y2="383.80" stroke="#555" stroke-width="0.6"/>
<line x1="17.40" y1="381.20" x2="19.00" y2="381.20" stroke="#555" stroke-width="0.6"/>
<line x1="17.40" y1="378.60" x2="19.00" y2="378.60" stroke="#555" stroke-width="0.6"/>
<line x1="17.40" y1="376.00" x2="19.00" y2="376.00" stroke="#555" stroke-width="0.6"/>
<line x1="17.40" y1="373.40" x2="19.00" y2="373.40" stroke="#555" stroke-width="0.6"/>
<line x1="17.40" y1="370.80" x2="19.00" y2="370.80" stroke="#555" stroke-width="0.6"/>
<line x1="17.40" y1="368.20" x2="19.00" y2="368.20" stroke="#555" stroke-width="0.6"/>
<line x1="17.40" y1="365.60" x2="19.00" y2="365.60" stroke="#555" stroke-width="0.6"/>
<line x1="17.40" y1="363.00" x2="19.00" y2="363.00" stroke="#555" stroke-width="0.6"/>
<line x1="17.40" y1="360.40" x2="19.00" y2="360.40" stroke="#555" stroke-width="0.6"/>
<line x1="17.40" y1="357.80" x2="19.00" y2="357.80" stroke="#555" stroke-width="0.6"/>
<line x1="17.40" y1="355.20" x2="19.00" y2="355.20" stroke="#555" stroke-width="0.6"/>
<line x1="17.40" y1="352.60" x2="19.00" y2="352.60" stroke="#555" stroke-width="0.6"/>
<line x1="17.40" y1="350.00" x2="19.00" y2="350.00" stroke="#555" stroke-width="0.6"/>
<line x1="17.40" y1="347.40" x2="19.00" y2="347.40" stroke="#555" stroke-width="0.6"/>
<line x1="17.40" y1="344.80" x2="19.00" y2="344.80" stroke="#555" stroke-width="0.6"/>
<line x1="17.40" y1="342.20" x2="19.00" y2="342.20" stroke="#555" stroke-width="0.6"/>
<line x1="17.40" y1="339.60" x2="19.00" y2="339.60" stroke="#555" stroke-width="0.6"/>
<line x1="17.40" y1="337.00" x2="19.00" y2="337.00" stroke="#555" stroke-width="0.6"/>
<line x1="17.40" y1="334.40" x2="19.00" y2="334.40" stroke="#555" stroke-width="0.6"/>
<line x1="17.40" y1="331.80" x2="19.00" y2="331.80" stroke="#555" stroke-width="0.6"/>
<line x1="17.40" y1="329.20" x2="19.00" y2="329.20" stroke="#555" stroke-width="0.6"/>
<line x1="17.40" y1="326.60" x2="19.00" y2="326.60" stroke="#555" stroke-width="0.6"/>
<line x1="17.40" y1="324.00" x2="19.00" y2="324.00" stroke="#555" stroke-width="0.6"/>
<line x1="17.40" y1="321.40" x2="19.00" y2="321.40" stroke="#555" stroke-width="0.6"/>
<line x1="17.40" y1="318.80" x2="19.00" y2="318.80" stroke="#555" stroke-width="0.6"/>
<line x1="17.40" y1="316.20" x2="19.00" y2="316.20" stroke="#555" stroke-width="0.6"/>
<line x1="17.40" y1="313.60" x2="19.00" y2="313.60" stroke="#555" stroke-width="0.6"/>
<line x1="17.40" y1="311.00" x2="19.00" y2="311.00" stroke="#555" stroke-width="0.6"/>
<line x1="17.40" y1="308.40" x2="19.00" y2="308.40" stroke="#555" stroke-width="0.6"/>
<line x1="17.40" y1="305.80" x2="19.00" y2="305.80" stroke="#555" stroke-width="0.6"/>
<line x1="14.00" y1="391.60" x2="16.60" y2="391.60" stroke="#999" stroke-width="0.8"/>
<line x1="14.00" y1="378.60" x2="16.60" y2="378.60" stroke="#999" stroke-width="0.8"/>
<line x1="14.00" y1="365.60" x2="16.60" y2="365.60" stroke="#999" stroke-width="0.8"/>
<line x1="14.00" y1="352.60" x2="16.60" y2="352.60" stroke="#999" stroke-width="0.8"/>
<line x1="14.00" y1="339.60" x2="16.60" y2="339.60" stroke="#999" stroke-width="0.8"/>
<line x1="14.00" y1="326.60" x2="16.60" y2="326.60" stroke="#999" stroke-width="0.8"/>
<line x1="14.00" y1="313.60" x2="16.60" y2="313.60" stroke="#999" stroke-width="0.8"/>
<line x1="13.40" y1="342.30" x2="13.40" y2="353.30" stroke="#888" stroke-width="0.8"/>
<line x1="13.40" y1="350.30" x2="13.40" y2="353.30" stroke="#444" stroke-width="0.9"/>
<line x1="18.2" y1="305.0" x2="18.2" y2="392.1" stroke="#333" stroke-width="1.0"/>
<line x1="17.7" y1="391.40" x2="158.8" y2="391.40" stroke="#111" stroke-width="0.95"/>
<line x1="18.20" y1="391.6" x2="18.20" y2="393.1" stroke="#333" stroke-width="0.6"/>
<line x1="41.63" y1="391.6" x2="41.63" y2="393.1" stroke="#333" stroke-width="0.6"/>
<text x="41.63" y="395.20" font-size="2.4" fill="#888" text-anchor="middle">5</text>
<line x1="65.07" y1="391.6" x2="65.07" y2="393.1" stroke="#333" stroke-width="0.6"/>
<text x="65.07" y="395.20" font-size="2.4" fill="#888" text-anchor="middle">10</text>
<line x1="88.50" y1="391.6" x2="88.50" y2="393.1" stroke="#333" stroke-width="0.6"/>
<text x="88.50" y="395.20" font-size="2.4" fill="#888" text-anchor="middle">15</text>
<line x1="111.93" y1="391.6" x2="111.93" y2="393.1" stroke="#333" stroke-width="0.6"/>
<text x="111.93" y="395.20" font-size="2.4" fill="#888" text-anchor="middle">20</text>
<line x1="135.37" y1="391.6" x2="135.37" y2="393.1" stroke="#333" stroke-width="0.6"/>
<text x="135.37" y="395.20" font-size="2.4" fill="#888" text-anchor="middle">25</text>
<line x1="158.80" y1="391.6" x2="158.80" y2="393.1" stroke="#333" stroke-width="0.6"/>
<text x="158.80" y="395.20" font-size="2.4" fill="#888" text-anchor="middle">30</text>
<text x="88.50" y="397.20" font-size="2.8" fill="#555" text-anchor="middle">Time [min]</text>
<rect x="170.00" y="386.30" width="1.00" height="5.30" fill="#3a9078"/>
<rect x="171.50" y="386.30" width="1.00" height="5.30" fill="#6ad2f8"/>
<rect x="174.70" y="388.30" width="1.00" height="3.30" fill="#60c048"/>
<rect x="199.00" y="371.70" width="1.00" height="19.90" fill="#e060c0"/>
<rect x="199.00" y="384.00" width="1.00" height="7.60" fill="#7050a8"/>
<rect x="201.80" y="383.50" width="1.00" height="8.10" fill="#6ad2f8"/>
<rect x="202.90" y="371.70" width="1.00" height="19.90" fill="#5aa0f0"/>
<rect x="204.80" y="363.90" width="1.20" height="27.70" fill="#b070d0"/>
<rect x="215.00" y="374.90" width="1.00" height="16.70" fill="#3a9078"/>
<rect x="220.20" y="368.60" width="1.00" height="23.00" fill="#6ad2f8"/>
<rect x="221.70" y="369.00" width="1.00" height="22.60" fill="#60c048"/>
<rect x="221.90" y="373.00" width="1.00" height="18.60" fill="#a06838"/>
<rect x="223.00" y="346.70" width="1.00" height="44.90" fill="#6ad2f8"/>
<polygon points="227.55,336.20 228.45,336.20 228.90,341.20 228.90,391.6 227.10,391.6 227.10,341.20" fill="#f090b4"/>
<rect x="231.00" y="356.00" width="1.00" height="35.60" fill="#6ad2f8"/>
<rect x="234.90" y="357.60" width="1.00" height="34.00" fill="#3a9078"/>
<rect x="236.10" y="349.00" width="1.00" height="42.60" fill="#6ad2f8"/>
<rect x="236.90" y="353.70" width="1.00" height="37.90" fill="#eca4a0"/>
<rect x="238.00" y="349.00" width="1.00" height="42.60" fill="#d0a058"/>
<rect x="238.00" y="355.00" width="1.00" height="36.60" fill="#a06838"/>
<rect x="240.70" y="335.70" width="1.20" height="55.90" fill="#b86850"/>
<rect x="244.00" y="359.70" width="1.00" height="31.90" fill="#60c048"/>
<rect x="255.00" y="366.00" width="1.00" height="25.60" fill="#5aa0f0"/>
<rect x="259.00" y="350.80" width="1.00" height="40.80" fill="#eca4a0"/>
<rect x="259.00" y="378.00" width="1.00" height="13.60" fill="#a8a8a8"/>
<rect x="260.95" y="314.90" width="1.30" height="76.70" fill="#789040"/>
<rect x="261.90" y="374.40" width="1.20" height="17.20" fill="#60c048"/>
<polygon points="266.75,351.70 267.65,351.70 268.10,356.70 268.10,391.6 266.30,391.6 266.30,356.70" fill="#d0a058"/>
<rect x="267.90" y="385.10" width="1.00" height="6.50" fill="#70d8a0"/>
<rect x="277.70" y="390.00" width="1.00" height="1.60" fill="#60c048"/>
<rect x="280.00" y="369.90" width="1.00" height="21.70" fill="#c86a6a"/>
<polygon points="286.35,378.50 287.25,378.50 287.70,381.77 287.70,391.6 285.90,391.6 285.90,381.77" fill="#3a9078"/>
<line x1="166.50" y1="391.60" x2="168.10" y2="391.60" stroke="#555" stroke-width="0.6"/>
<line x1="166.50" y1="386.50" x2="168.10" y2="386.50" stroke="#555" stroke-width="0.6"/>
<line x1="166.50" y1="381.40" x2="168.10" y2="381.40" stroke="#555" stroke-width="0.6"/>
<line x1="166.50" y1="376.30" x2="168.10" y2="376.30" stroke="#555" stroke-width="0.6"/>
<line x1="166.50" y1="371.20" x2="168.10" y2="371.20" stroke="#555" stroke-width="0.6"/>
<line x1="166.50" y1="366.10" x2="168.10" y2="366.10" stroke="#555" stroke-width="0.6"/>
<line x1="166.50" y1="361.00" x2="168.10" y2="361.00" stroke="#555" stroke-width="0.6"/>
<line x1="166.50" y1="355.90" x2="168.10" y2="355.90" stroke="#555" stroke-width="0.6"/>
<line x1="166.50" y1="350.80" x2="168.10" y2="350.80" stroke="#555" stroke-width="0.6"/>
<line x1="166.50" y1="345.70" x2="168.10" y2="345.70" stroke="#555" stroke-width="0.6"/>
<line x1="166.50" y1="340.60" x2="168.10" y2="340.60" stroke="#555" stroke-width="0.6"/>
<line x1="166.50" y1="335.50" x2="168.10" y2="335.50" stroke="#555" stroke-width="0.6"/>
<line x1="166.50" y1="330.40" x2="168.10" y2="330.40" stroke="#555" stroke-width="0.6"/>
<line x1="166.50" y1="325.30" x2="168.10" y2="325.30" stroke="#555" stroke-width="0.6"/>
<line x1="166.50" y1="320.20" x2="168.10" y2="320.20" stroke="#555" stroke-width="0.6"/>
<line x1="166.50" y1="315.10" x2="168.10" y2="315.10" stroke="#555" stroke-width="0.6"/>
<line x1="166.50" y1="310.00" x2="168.10" y2="310.00" stroke="#555" stroke-width="0.6"/>
<line x1="166.50" y1="304.90" x2="168.10" y2="304.90" stroke="#555" stroke-width="0.6"/>
<line x1="163.10" y1="391.60" x2="165.70" y2="391.60" stroke="#999" stroke-width="0.8"/>
<line x1="163.10" y1="381.40" x2="165.70" y2="381.40" stroke="#999" stroke-width="0.8"/>
<line x1="163.10" y1="371.20" x2="165.70" y2="371.20" stroke="#999" stroke-width="0.8"/>
<line x1="163.10" y1="361.00" x2="165.70" y2="361.00" stroke="#999" stroke-width="0.8"/>
<line x1="163.10" y1="350.80" x2="165.70" y2="350.80" stroke="#999" stroke-width="0.8"/>
<line x1="163.10" y1="340.60" x2="165.70" y2="340.60" stroke="#999" stroke-width="0.8"/>
<line x1="163.10" y1="330.40" x2="165.70" y2="330.40" stroke="#999" stroke-width="0.8"/>
<line x1="163.10" y1="320.20" x2="165.70" y2="320.20" stroke="#999" stroke-width="0.8"/>
<line x1="163.10" y1="310.00" x2="165.70" y2="310.00" stroke="#999" stroke-width="0.8"/>
<line x1="162.50" y1="341.80" x2="162.50" y2="352.80" stroke="#888" stroke-width="0.8"/>
<line x1="162.50" y1="349.80" x2="162.50" y2="352.80" stroke="#444" stroke-width="0.9"/>
<line x1="167.3" y1="304.0" x2="167.3" y2="392.1" stroke="#333" stroke-width="1.0"/>
<line x1="166.8" y1="391.40" x2="309.8" y2="391.40" stroke="#111" stroke-width="0.95"/>
<line x1="167.30" y1="391.6" x2="167.30" y2="393.1" stroke="#333" stroke-width="0.6"/>
<line x1="191.05" y1="391.6" x2="191.05" y2="393.1" stroke="#333" stroke-width="0.6"/>
<text x="191.05" y="395.20" font-size="2.4" fill="#888" text-anchor="middle">5</text>
<line x1="214.80" y1="391.6" x2="214.80" y2="393.1" stroke="#333" stroke-width="0.6"/>
<text x="214.80" y="395.20" font-size="2.4" fill="#888" text-anchor="middle">10</text>
<line x1="238.55" y1="391.6" x2="238.55" y2="393.1" stroke="#333" stroke-width="0.6"/>
<text x="238.55" y="395.20" font-size="2.4" fill="#888" text-anchor="middle">15</text>
<line x1="262.30" y1="391.6" x2="262.30" y2="393.1" stroke="#333" stroke-width="0.6"/>
<text x="262.30" y="395.20" font-size="2.4" fill="#888" text-anchor="middle">20</text>
<line x1="286.05" y1="391.6" x2="286.05" y2="393.1" stroke="#333" stroke-width="0.6"/>
<text x="286.05" y="395.20" font-size="2.4" fill="#888" text-anchor="middle">25</text>
<line x1="309.80" y1="391.6" x2="309.80" y2="393.1" stroke="#333" stroke-width="0.6"/>
<text x="309.80" y="395.20" font-size="2.4" fill="#888" text-anchor="middle">30</text>
<text x="238.55" y="397.20" font-size="2.8" fill="#555" text-anchor="middle">Time [min]</text>
<rect x="20.00" y="485.30" width="1.00" height="2.00" fill="#6ad2f8"/>
<rect x="21.90" y="481.30" width="1.00" height="6.00" fill="#6ad2f8"/>
<rect x="23.10" y="484.30" width="1.00" height="3.00" fill="#6ad2f8"/>
<rect x="27.00" y="485.30" width="1.00" height="2.00" fill="#e88830"/>
<rect x="28.90" y="482.30" width="1.00" height="5.00" fill="#60c048"/>
<polygon points="55.35,460.40 56.25,460.40 56.80,465.40 56.80,487.3 54.80,487.3 54.80,465.40" fill="#f4b4c8"/>
<polygon points="55.35,474.00 56.25,474.00 56.55,477.32 56.55,487.3 55.05,487.3 55.05,477.32" fill="#7050a8"/>
<rect x="56.80" y="465.10" width="1.00" height="22.20" fill="#5aa0f0"/>
<rect x="58.90" y="463.80" width="1.20" height="23.50" fill="#b070d0"/>
<rect x="66.60" y="451.00" width="1.00" height="36.30" fill="#3a9078"/>
<rect x="72.00" y="462.00" width="1.00" height="25.30" fill="#60c048"/>
<rect x="74.30" y="462.00" width="1.20" height="25.30" fill="#60c048"/>
<rect x="78.00" y="459.10" width="1.00" height="28.20" fill="#6ad2f8"/>
<rect x="81.00" y="421.20" width="1.00" height="66.10" fill="#6ad2f8"/>
<rect x="81.00" y="462.00" width="1.00" height="25.30" fill="#a8a8a8"/>
<rect x="81.90" y="425.00" width="1.00" height="62.30" fill="#f090b4"/>
<rect x="85.80" y="431.70" width="1.00" height="55.60" fill="#6ad2f8"/>
<rect x="86.90" y="483.00" width="1.00" height="4.30" fill="#7050a8"/>
<rect x="90.80" y="423.00" width="1.00" height="64.30" fill="#6ad2f8"/>
<rect x="91.90" y="438.00" width="1.00" height="49.30" fill="#eca4a0"/>
<polygon points="97.45,423.00 98.35,423.00 98.90,428.00 98.90,487.3 96.90,487.3 96.90,428.00" fill="#eca4a0"/>
<rect x="97.30" y="439.50" width="1.20" height="47.80" fill="#60c048"/>
<rect x="99.90" y="433.30" width="1.00" height="54.00" fill="#5aa0f0"/>
<rect x="101.70" y="429.00" width="1.20" height="58.30" fill="#d0a058"/>
<rect x="110.20" y="486.00" width="1.00" height="1.30" fill="#c86a6a"/>
<rect x="117.00" y="444.10" width="1.00" height="43.20" fill="#5aa0f0"/>
<rect x="120.00" y="426.20" width="1.00" height="61.10" fill="#eca4a0"/>
<rect x="120.00" y="466.00" width="1.00" height="21.30" fill="#a8a8a8"/>
<rect x="122.75" y="408.20" width="1.30" height="79.10" fill="#789040"/>
<rect x="125.00" y="432.00" width="1.20" height="55.30" fill="#d0a058"/>
<polygon points="126.55,469.10 127.45,469.10 128.00,473.65 128.00,487.3 126.00,487.3 126.00,473.65" fill="#70d8a0"/>
<rect x="127.70" y="484.00" width="1.00" height="3.30" fill="#60c048"/>
<rect x="137.00" y="481.10" width="1.00" height="6.20" fill="#60c048"/>
<rect x="146.90" y="460.90" width="1.00" height="26.40" fill="#c86a6a"/>
<rect x="150.30" y="476.00" width="1.00" height="11.30" fill="#70d8a0"/>
<rect x="150.90" y="469.50" width="1.20" height="17.80" fill="#3a9078"/>
<rect x="153.50" y="485.00" width="1.00" height="2.30" fill="#70d8a0"/>
<line x1="16.70" y1="487.30" x2="18.30" y2="487.30" stroke="#555" stroke-width="0.6"/>
<line x1="16.70" y1="484.56" x2="18.30" y2="484.56" stroke="#555" stroke-width="0.6"/>
<line x1="16.70" y1="481.82" x2="18.30" y2="481.82" stroke="#555" stroke-width="0.6"/>
<line x1="16.70" y1="479.08" x2="18.30" y2="479.08" stroke="#555" stroke-width="0.6"/>
<line x1="16.70" y1="476.34" x2="18.30" y2="476.34" stroke="#555" stroke-width="0.6"/>
<line x1="16.70" y1="473.60" x2="18.30" y2="473.60" stroke="#555" stroke-width="0.6"/>
<line x1="16.70" y1="470.86" x2="18.30" y2="470.86" stroke="#555" stroke-width="0.6"/>
<line x1="16.70" y1="468.12" x2="18.30" y2="468.12" stroke="#555" stroke-width="0.6"/>
<line x1="16.70" y1="465.38" x2="18.30" y2="465.38" stroke="#555" stroke-width="0.6"/>
<line x1="16.70" y1="462.64" x2="18.30" y2="462.64" stroke="#555" stroke-width="0.6"/>
<line x1="16.70" y1="459.90" x2="18.30" y2="459.90" stroke="#555" stroke-width="0.6"/>
<line x1="16.70" y1="457.16" x2="18.30" y2="457.16" stroke="#555" stroke-width="0.6"/>
<line x1="16.70" y1="454.42" x2="18.30" y2="454.42" stroke="#555" stroke-width="0.6"/>
<line x1="16.70" y1="451.68" x2="18.30" y2="451.68" stroke="#555" stroke-width="0.6"/>
<line x1="16.70" y1="448.94" x2="18.30" y2="448.94" stroke="#555" stroke-width="0.6"/>
<line x1="16.70" y1="446.20" x2="18.30" y2="446.20" stroke="#555" stroke-width="0.6"/>
<line x1="16.70" y1="443.46" x2="18.30" y2="443.46" stroke="#555" stroke-width="0.6"/>
<line x1="16.70" y1="440.72" x2="18.30" y2="440.72" stroke="#555" stroke-width="0.6"/>
<line x1="16.70" y1="437.98" x2="18.30" y2="437.98" stroke="#555" stroke-width="0.6"/>
<line x1="16.70" y1="435.24" x2="18.30" y2="435.24" stroke="#555" stroke-width="0.6"/>
<line x1="16.70" y1="432.50" x2="18.30" y2="432.50" stroke="#555" stroke-width="0.6"/>
<line x1="16.70" y1="429.76" x2="18.30" y2="429.76" stroke="#555" stroke-width="0.6"/>
<line x1="16.70" y1="427.02" x2="18.30" y2="427.02" stroke="#555" stroke-width="0.6"/>
<line x1="16.70" y1="424.28" x2="18.30" y2="424.28" stroke="#555" stroke-width="0.6"/>
<line x1="16.70" y1="421.54" x2="18.30" y2="421.54" stroke="#555" stroke-width="0.6"/>
<line x1="16.70" y1="418.80" x2="18.30" y2="418.80" stroke="#555" stroke-width="0.6"/>
<line x1="16.70" y1="416.06" x2="18.30" y2="416.06" stroke="#555" stroke-width="0.6"/>
<line x1="16.70" y1="413.32" x2="18.30" y2="413.32" stroke="#555" stroke-width="0.6"/>
<line x1="16.70" y1="410.58" x2="18.30" y2="410.58" stroke="#555" stroke-width="0.6"/>
<line x1="16.70" y1="407.84" x2="18.30" y2="407.84" stroke="#555" stroke-width="0.6"/>
<line x1="16.70" y1="405.10" x2="18.30" y2="405.10" stroke="#555" stroke-width="0.6"/>
<line x1="16.70" y1="402.36" x2="18.30" y2="402.36" stroke="#555" stroke-width="0.6"/>
<line x1="13.30" y1="487.30" x2="15.90" y2="487.30" stroke="#999" stroke-width="0.8"/>
<line x1="13.30" y1="473.60" x2="15.90" y2="473.60" stroke="#999" stroke-width="0.8"/>
<line x1="13.30" y1="459.90" x2="15.90" y2="459.90" stroke="#999" stroke-width="0.8"/>
<line x1="13.30" y1="446.20" x2="15.90" y2="446.20" stroke="#999" stroke-width="0.8"/>
<line x1="13.30" y1="432.50" x2="15.90" y2="432.50" stroke="#999" stroke-width="0.8"/>
<line x1="13.30" y1="418.80" x2="15.90" y2="418.80" stroke="#999" stroke-width="0.8"/>
<line x1="13.30" y1="405.10" x2="15.90" y2="405.10" stroke="#999" stroke-width="0.8"/>
<line x1="12.70" y1="438.30" x2="12.70" y2="449.30" stroke="#888" stroke-width="0.8"/>
<line x1="12.70" y1="446.30" x2="12.70" y2="449.30" stroke="#444" stroke-width="0.9"/>
<line x1="17.5" y1="401.3" x2="17.5" y2="487.8" stroke="#333" stroke-width="1.0"/>
<line x1="17.0" y1="487.10" x2="159.4" y2="487.10" stroke="#111" stroke-width="0.95"/>
<line x1="17.50" y1="487.3" x2="17.50" y2="488.8" stroke="#333" stroke-width="0.6"/>
<line x1="41.15" y1="487.3" x2="41.15" y2="488.8" stroke="#333" stroke-width="0.6"/>
<text x="41.15" y="490.90" font-size="2.4" fill="#888" text-anchor="middle">5</text>
<line x1="64.80" y1="487.3" x2="64.80" y2="488.8" stroke="#333" stroke-width="0.6"/>
<text x="64.80" y="490.90" font-size="2.4" fill="#888" text-anchor="middle">10</text>
<line x1="88.45" y1="487.3" x2="88.45" y2="488.8" stroke="#333" stroke-width="0.6"/>
<text x="88.45" y="490.90" font-size="2.4" fill="#888" text-anchor="middle">15</text>
<line x1="112.10" y1="487.3" x2="112.10" y2="488.8" stroke="#333" stroke-width="0.6"/>
<text x="112.10" y="490.90" font-size="2.4" fill="#888" text-anchor="middle">20</text>
<line x1="135.75" y1="487.3" x2="135.75" y2="488.8" stroke="#333" stroke-width="0.6"/>
<text x="135.75" y="490.90" font-size="2.4" fill="#888" text-anchor="middle">25</text>
<line x1="159.40" y1="487.3" x2="159.40" y2="488.8" stroke="#333" stroke-width="0.6"/>
<text x="159.40" y="490.90" font-size="2.4" fill="#888" text-anchor="middle">30</text>
<text x="88.45" y="492.90" font-size="2.8" fill="#555" text-anchor="middle">Time [min]</text>
<rect x="169.40" y="483.30" width="1.20" height="4.30" fill="#6ad2f8"/>
<rect x="171.50" y="486.30" width="1.00" height="1.30" fill="#6ad2f8"/>
<rect x="176.70" y="484.80" width="1.00" height="2.80" fill="#60c048"/>
<rect x="202.90" y="472.50" width="1.00" height="15.10" fill="#e060c0"/>
<rect x="202.90" y="484.00" width="1.00" height="3.60" fill="#7050a8"/>
<rect x="206.00" y="482.00" width="1.00" height="5.60" fill="#6ad2f8"/>
<rect x="206.70" y="469.30" width="1.20" height="18.30" fill="#5aa0f0"/>
<rect x="207.80" y="467.00" width="1.20" height="20.60" fill="#b070d0"/>
<rect x="217.00" y="474.00" width="1.00" height="13.60" fill="#3a9078"/>
<rect x="223.30" y="470.10" width="1.00" height="17.50" fill="#60c048"/>
<rect x="224.90" y="462.30" width="1.00" height="25.30" fill="#60c048"/>
<rect x="225.30" y="464.00" width="1.00" height="23.60" fill="#6ad2f8"/>
<rect x="228.00" y="436.10" width="1.00" height="51.50" fill="#6ad2f8"/>
<rect x="228.00" y="468.00" width="1.00" height="19.60" fill="#a8a8a8"/>
<rect x="230.70" y="485.00" width="1.00" height="2.60" fill="#7050a8"/>
<rect x="231.80" y="438.00" width="1.20" height="49.60" fill="#f090b4"/>
<rect x="236.90" y="443.90" width="1.00" height="43.70" fill="#6ad2f8"/>
<rect x="239.00" y="459.10" width="1.00" height="28.50" fill="#f4b4c8"/>
<rect x="241.90" y="440.00" width="1.00" height="47.60" fill="#6ad2f8"/>
<rect x="242.90" y="443.50" width="1.00" height="44.10" fill="#3a9078"/>
<polygon points="244.35,441.90 245.25,441.90 245.70,446.90 245.70,487.6 243.90,487.6 243.90,446.90" fill="#d0a058"/>
<rect x="246.70" y="445.00" width="1.20" height="42.60" fill="#b86850"/>
<rect x="247.90" y="457.60" width="1.00" height="30.00" fill="#60c048"/>
<polygon points="259.05,470.40 259.95,470.40 260.40,474.70 260.40,487.6 258.60,487.6 258.60,474.70" fill="#6ad2f8"/>
<polygon points="263.45,441.80 264.35,441.80 264.80,446.80 264.80,487.6 263.00,487.6 263.00,446.80" fill="#eca4a0"/>
<polygon points="263.45,472.00 264.35,472.00 264.65,475.90 264.65,487.6 263.15,487.6 263.15,475.90" fill="#a8a8a8"/>
<rect x="267.30" y="474.00" width="1.20" height="13.60" fill="#60c048"/>
<rect x="269.85" y="410.20" width="1.30" height="77.40" fill="#789040"/>
<rect x="273.65" y="448.90" width="1.30" height="38.70" fill="#d0a058"/>
<rect x="276.80" y="481.10" width="1.00" height="6.50" fill="#60c048"/>
<rect x="286.10" y="462.00" width="1.00" height="25.60" fill="#c86a6a"/>
<rect x="289.90" y="474.50" width="1.00" height="13.10" fill="#3a9078"/>
<rect x="291.10" y="476.60" width="1.00" height="11.00" fill="#3a9078"/>
<rect x="293.80" y="484.30" width="1.00" height="3.30" fill="#70d8a0"/>
<line x1="166.80" y1="487.60" x2="168.40" y2="487.60" stroke="#555" stroke-width="0.6"/>
<line x1="166.80" y1="485.40" x2="168.40" y2="485.40" stroke="#555" stroke-width="0.6"/>
<line x1="166.80" y1="483.20" x2="168.40" y2="483.20" stroke="#555" stroke-width="0.6"/>
<line x1="166.80" y1="481.00" x2="168.40" y2="481.00" stroke="#555" stroke-width="0.6"/>
<line x1="166.80" y1="478.80" x2="168.40" y2="478.80" stroke="#555" stroke-width="0.6"/>
<line x1="166.80" y1="476.60" x2="168.40" y2="476.60" stroke="#555" stroke-width="0.6"/>
<line x1="166.80" y1="474.40" x2="168.40" y2="474.40" stroke="#555" stroke-width="0.6"/>
<line x1="166.80" y1="472.20" x2="168.40" y2="472.20" stroke="#555" stroke-width="0.6"/>
<line x1="166.80" y1="470.00" x2="168.40" y2="470.00" stroke="#555" stroke-width="0.6"/>
<line x1="166.80" y1="467.80" x2="168.40" y2="467.80" stroke="#555" stroke-width="0.6"/>
<line x1="166.80" y1="465.60" x2="168.40" y2="465.60" stroke="#555" stroke-width="0.6"/>
<line x1="166.80" y1="463.40" x2="168.40" y2="463.40" stroke="#555" stroke-width="0.6"/>
<line x1="166.80" y1="461.20" x2="168.40" y2="461.20" stroke="#555" stroke-width="0.6"/>
<line x1="166.80" y1="459.00" x2="168.40" y2="459.00" stroke="#555" stroke-width="0.6"/>
<line x1="166.80" y1="456.80" x2="168.40" y2="456.80" stroke="#555" stroke-width="0.6"/>
<line x1="166.80" y1="454.60" x2="168.40" y2="454.60" stroke="#555" stroke-width="0.6"/>
<line x1="166.80" y1="452.40" x2="168.40" y2="452.40" stroke="#555" stroke-width="0.6"/>
<line x1="166.80" y1="450.20" x2="168.40" y2="450.20" stroke="#555" stroke-width="0.6"/>
<line x1="166.80" y1="448.00" x2="168.40" y2="448.00" stroke="#555" stroke-width="0.6"/>
<line x1="166.80" y1="445.80" x2="168.40" y2="445.80" stroke="#555" stroke-width="0.6"/>
<line x1="166.80" y1="443.60" x2="168.40" y2="443.60" stroke="#555" stroke-width="0.6"/>
<line x1="166.80" y1="441.40" x2="168.40" y2="441.40" stroke="#555" stroke-width="0.6"/>
<line x1="166.80" y1="439.20" x2="168.40" y2="439.20" stroke="#555" stroke-width="0.6"/>
<line x1="166.80" y1="437.00" x2="168.40" y2="437.00" stroke="#555" stroke-width="0.6"/>
<line x1="166.80" y1="434.80" x2="168.40" y2="434.80" stroke="#555" stroke-width="0.6"/>
<line x1="166.80" y1="432.60" x2="168.40" y2="432.60" stroke="#555" stroke-width="0.6"/>
<line x1="166.80" y1="430.40" x2="168.40" y2="430.40" stroke="#555" stroke-width="0.6"/>
<line x1="166.80" y1="428.20" x2="168.40" y2="428.20" stroke="#555" stroke-width="0.6"/>
<line x1="166.80" y1="426.00" x2="168.40" y2="426.00" stroke="#555" stroke-width="0.6"/>
<line x1="166.80" y1="423.80" x2="168.40" y2="423.80" stroke="#555" stroke-width="0.6"/>
<line x1="166.80" y1="421.60" x2="168.40" y2="421.60" stroke="#555" stroke-width="0.6"/>
<line x1="166.80" y1="419.40" x2="168.40" y2="419.40" stroke="#555" stroke-width="0.6"/>
<line x1="166.80" y1="417.20" x2="168.40" y2="417.20" stroke="#555" stroke-width="0.6"/>
<line x1="166.80" y1="415.00" x2="168.40" y2="415.00" stroke="#555" stroke-width="0.6"/>
<line x1="166.80" y1="412.80" x2="168.40" y2="412.80" stroke="#555" stroke-width="0.6"/>
<line x1="166.80" y1="410.60" x2="168.40" y2="410.60" stroke="#555" stroke-width="0.6"/>
<line x1="166.80" y1="408.40" x2="168.40" y2="408.40" stroke="#555" stroke-width="0.6"/>
<line x1="166.80" y1="406.20" x2="168.40" y2="406.20" stroke="#555" stroke-width="0.6"/>
<line x1="166.80" y1="404.00" x2="168.40" y2="404.00" stroke="#555" stroke-width="0.6"/>
<line x1="166.80" y1="401.80" x2="168.40" y2="401.80" stroke="#555" stroke-width="0.6"/>
<line x1="163.40" y1="487.60" x2="166.00" y2="487.60" stroke="#999" stroke-width="0.8"/>
<line x1="163.40" y1="478.80" x2="166.00" y2="478.80" stroke="#999" stroke-width="0.8"/>
<line x1="163.40" y1="470.00" x2="166.00" y2="470.00" stroke="#999" stroke-width="0.8"/>
<line x1="163.40" y1="461.20" x2="166.00" y2="461.20" stroke="#999" stroke-width="0.8"/>
<line x1="163.40" y1="452.40" x2="166.00" y2="452.40" stroke="#999" stroke-width="0.8"/>
<line x1="163.40" y1="443.60" x2="166.00" y2="443.60" stroke="#999" stroke-width="0.8"/>
<line x1="163.40" y1="434.80" x2="166.00" y2="434.80" stroke="#999" stroke-width="0.8"/>
<line x1="163.40" y1="426.00" x2="166.00" y2="426.00" stroke="#999" stroke-width="0.8"/>
<line x1="163.40" y1="417.20" x2="166.00" y2="417.20" stroke="#999" stroke-width="0.8"/>
<line x1="163.40" y1="408.40" x2="166.00" y2="408.40" stroke="#999" stroke-width="0.8"/>
<line x1="162.80" y1="438.45" x2="162.80" y2="449.45" stroke="#888" stroke-width="0.8"/>
<line x1="162.80" y1="446.45" x2="162.80" y2="449.45" stroke="#444" stroke-width="0.9"/>
<line x1="167.6" y1="401.3" x2="167.6" y2="488.1" stroke="#333" stroke-width="1.0"/>
<line x1="167.1" y1="487.40" x2="309.4" y2="487.40" stroke="#111" stroke-width="0.95"/>
<line x1="167.60" y1="487.6" x2="167.60" y2="489.1" stroke="#333" stroke-width="0.6"/>
<line x1="191.23" y1="487.6" x2="191.23" y2="489.1" stroke="#333" stroke-width="0.6"/>
<text x="191.23" y="491.20" font-size="2.4" fill="#888" text-anchor="middle">5</text>
<line x1="214.87" y1="487.6" x2="214.87" y2="489.1" stroke="#333" stroke-width="0.6"/>
<text x="214.87" y="491.20" font-size="2.4" fill="#888" text-anchor="middle">10</text>
<line x1="238.50" y1="487.6" x2="238.50" y2="489.1" stroke="#333" stroke-width="0.6"/>
<text x="238.50" y="491.20" font-size="2.4" fill="#888" text-anchor="middle">15</text>
<line x1="262.13" y1="487.6" x2="262.13" y2="489.1" stroke="#333" stroke-width="0.6"/>
<text x="262.13" y="491.20" font-size="2.4" fill="#888" text-anchor="middle">20</text>
<line x1="285.77" y1="487.6" x2="285.77" y2="489.1" stroke="#333" stroke-width="0.6"/>
<text x="285.77" y="491.20" font-size="2.4" fill="#888" text-anchor="middle">25</text>
<line x1="309.40" y1="487.6" x2="309.40" y2="489.1" stroke="#333" stroke-width="0.6"/>
<text x="309.40" y="491.20" font-size="2.4" fill="#888" text-anchor="middle">30</text>
<text x="238.50" y="493.20" font-size="2.8" fill="#555" text-anchor="middle">Time [min]</text>
<rect x="21.10" y="580.00" width="1.00" height="3.00" fill="#6ad2f8"/>
<rect x="27.80" y="580.00" width="1.00" height="3.00" fill="#60c048"/>
<rect x="54.90" y="563.80" width="1.00" height="19.20" fill="#e060c0"/>
<rect x="54.90" y="575.00" width="1.00" height="8.00" fill="#7050a8"/>
<rect x="56.80" y="562.00" width="1.00" height="21.00" fill="#5aa0f0"/>
<polygon points="58.95,558.80 59.85,558.80 60.15,563.80 60.15,583.0 58.65,583.0 58.65,563.80" fill="#b070d0"/>
<rect x="68.10" y="558.00" width="1.00" height="25.00" fill="#3a9078"/>
<rect x="72.25" y="567.00" width="1.30" height="16.00" fill="#70d8a0"/>
<rect x="73.90" y="560.10" width="1.00" height="22.90" fill="#60c048"/>
<rect x="77.80" y="559.60" width="1.00" height="23.40" fill="#6ad2f8"/>
<rect x="79.90" y="534.00" width="1.00" height="49.00" fill="#6ad2f8"/>
<rect x="81.00" y="533.40" width="1.00" height="49.60" fill="#f090b4"/>
<rect x="81.00" y="565.00" width="1.00" height="18.00" fill="#a8a8a8"/>
<rect x="84.90" y="544.40" width="1.00" height="38.60" fill="#6ad2f8"/>
<rect x="85.80" y="579.50" width="1.00" height="3.50" fill="#7050a8"/>
<rect x="90.10" y="540.00" width="1.00" height="43.00" fill="#6ad2f8"/>
<polygon points="91.65,547.00 92.55,547.00 93.00,552.00 93.00,583.0 91.20,583.0 91.20,552.00" fill="#f4b4c8"/>
<rect x="95.80" y="523.10" width="1.20" height="59.90" fill="#b86850"/>
<rect x="95.80" y="541.30" width="1.20" height="41.70" fill="#60c048"/>
<rect x="97.90" y="544.70" width="1.00" height="38.30" fill="#6ad2f8"/>
<rect x="98.90" y="537.20" width="1.20" height="45.80" fill="#d0a058"/>
<rect x="115.60" y="555.20" width="1.00" height="27.80" fill="#5aa0f0"/>
<rect x="118.65" y="535.00" width="1.30" height="48.00" fill="#eca4a0"/>
<rect x="118.65" y="566.00" width="1.30" height="17.00" fill="#a8a8a8"/>
<rect x="119.85" y="508.70" width="1.30" height="74.30" fill="#789040"/>
<rect x="122.80" y="543.40" width="1.20" height="39.60" fill="#d0a058"/>
<polygon points="124.25,569.00 125.15,569.00 125.60,572.50 125.60,583.0 123.80,583.0 123.80,572.50" fill="#60c048"/>
<rect x="131.80" y="577.00" width="1.00" height="6.00" fill="#60c048"/>
<rect x="141.10" y="562.70" width="1.00" height="20.30" fill="#c86a6a"/>
<rect x="146.80" y="569.80" width="1.20" height="13.20" fill="#3a9078"/>
<rect x="148.30" y="579.40" width="1.00" height="3.60" fill="#70d8a0"/>
<line x1="15.70" y1="583.00" x2="17.30" y2="583.00" stroke="#555" stroke-width="0.6"/>
<line x1="15.70" y1="580.36" x2="17.30" y2="580.36" stroke="#555" stroke-width="0.6"/>
<line x1="15.70" y1="577.72" x2="17.30" y2="577.72" stroke="#555" stroke-width="0.6"/>
<line x1="15.70" y1="575.08" x2="17.30" y2="575.08" stroke="#555" stroke-width="0.6"/>
<line x1="15.70" y1="572.44" x2="17.30" y2="572.44" stroke="#555" stroke-width="0.6"/>
<line x1="15.70" y1="569.80" x2="17.30" y2="569.80" stroke="#555" stroke-width="0.6"/>
<line x1="15.70" y1="567.16" x2="17.30" y2="567.16" stroke="#555" stroke-width="0.6"/>
<line x1="15.70" y1="564.52" x2="17.30" y2="564.52" stroke="#555" stroke-width="0.6"/>
<line x1="15.70" y1="561.88" x2="17.30" y2="561.88" stroke="#555" stroke-width="0.6"/>
<line x1="15.70" y1="559.24" x2="17.30" y2="559.24" stroke="#555" stroke-width="0.6"/>
<line x1="15.70" y1="556.60" x2="17.30" y2="556.60" stroke="#555" stroke-width="0.6"/>
<line x1="15.70" y1="553.96" x2="17.30" y2="553.96" stroke="#555" stroke-width="0.6"/>
<line x1="15.70" y1="551.32" x2="17.30" y2="551.32" stroke="#555" stroke-width="0.6"/>
<line x1="15.70" y1="548.68" x2="17.30" y2="548.68" stroke="#555" stroke-width="0.6"/>
<line x1="15.70" y1="546.04" x2="17.30" y2="546.04" stroke="#555" stroke-width="0.6"/>
<line x1="15.70" y1="543.40" x2="17.30" y2="543.40" stroke="#555" stroke-width="0.6"/>
<line x1="15.70" y1="540.76" x2="17.30" y2="540.76" stroke="#555" stroke-width="0.6"/>
<line x1="15.70" y1="538.12" x2="17.30" y2="538.12" stroke="#555" stroke-width="0.6"/>
<line x1="15.70" y1="535.48" x2="17.30" y2="535.48" stroke="#555" stroke-width="0.6"/>
<line x1="15.70" y1="532.84" x2="17.30" y2="532.84" stroke="#555" stroke-width="0.6"/>
<line x1="15.70" y1="530.20" x2="17.30" y2="530.20" stroke="#555" stroke-width="0.6"/>
<line x1="15.70" y1="527.56" x2="17.30" y2="527.56" stroke="#555" stroke-width="0.6"/>
<line x1="15.70" y1="524.92" x2="17.30" y2="524.92" stroke="#555" stroke-width="0.6"/>
<line x1="15.70" y1="522.28" x2="17.30" y2="522.28" stroke="#555" stroke-width="0.6"/>
<line x1="15.70" y1="519.64" x2="17.30" y2="519.64" stroke="#555" stroke-width="0.6"/>
<line x1="15.70" y1="517.00" x2="17.30" y2="517.00" stroke="#555" stroke-width="0.6"/>
<line x1="15.70" y1="514.36" x2="17.30" y2="514.36" stroke="#555" stroke-width="0.6"/>
<line x1="15.70" y1="511.72" x2="17.30" y2="511.72" stroke="#555" stroke-width="0.6"/>
<line x1="15.70" y1="509.08" x2="17.30" y2="509.08" stroke="#555" stroke-width="0.6"/>
<line x1="15.70" y1="506.44" x2="17.30" y2="506.44" stroke="#555" stroke-width="0.6"/>
<line x1="15.70" y1="503.80" x2="17.30" y2="503.80" stroke="#555" stroke-width="0.6"/>
<line x1="15.70" y1="501.16" x2="17.30" y2="501.16" stroke="#555" stroke-width="0.6"/>
<line x1="15.70" y1="498.52" x2="17.30" y2="498.52" stroke="#555" stroke-width="0.6"/>
<line x1="12.30" y1="583.00" x2="14.90" y2="583.00" stroke="#999" stroke-width="0.8"/>
<line x1="12.30" y1="569.80" x2="14.90" y2="569.80" stroke="#999" stroke-width="0.8"/>
<line x1="12.30" y1="556.60" x2="14.90" y2="556.60" stroke="#999" stroke-width="0.8"/>
<line x1="12.30" y1="543.40" x2="14.90" y2="543.40" stroke="#999" stroke-width="0.8"/>
<line x1="12.30" y1="530.20" x2="14.90" y2="530.20" stroke="#999" stroke-width="0.8"/>
<line x1="12.30" y1="517.00" x2="14.90" y2="517.00" stroke="#999" stroke-width="0.8"/>
<line x1="12.30" y1="503.80" x2="14.90" y2="503.80" stroke="#999" stroke-width="0.8"/>
<line x1="11.70" y1="533.50" x2="11.70" y2="544.50" stroke="#888" stroke-width="0.8"/>
<line x1="11.70" y1="541.50" x2="11.70" y2="544.50" stroke="#444" stroke-width="0.9"/>
<line x1="16.5" y1="496.0" x2="16.5" y2="583.5" stroke="#333" stroke-width="1.0"/>
<line x1="16.0" y1="582.80" x2="158.8" y2="582.80" stroke="#111" stroke-width="0.95"/>
<line x1="16.50" y1="583.0" x2="16.50" y2="584.5" stroke="#333" stroke-width="0.6"/>
<line x1="40.22" y1="583.0" x2="40.22" y2="584.5" stroke="#333" stroke-width="0.6"/>
<text x="40.22" y="586.60" font-size="2.4" fill="#888" text-anchor="middle">5</text>
<line x1="63.93" y1="583.0" x2="63.93" y2="584.5" stroke="#333" stroke-width="0.6"/>
<text x="63.93" y="586.60" font-size="2.4" fill="#888" text-anchor="middle">10</text>
<line x1="87.65" y1="583.0" x2="87.65" y2="584.5" stroke="#333" stroke-width="0.6"/>
<text x="87.65" y="586.60" font-size="2.4" fill="#888" text-anchor="middle">15</text>
<line x1="111.37" y1="583.0" x2="111.37" y2="584.5" stroke="#333" stroke-width="0.6"/>
<text x="111.37" y="586.60" font-size="2.4" fill="#888" text-anchor="middle">20</text>
<line x1="135.08" y1="583.0" x2="135.08" y2="584.5" stroke="#333" stroke-width="0.6"/>
<text x="135.08" y="586.60" font-size="2.4" fill="#888" text-anchor="middle">25</text>
<line x1="158.80" y1="583.0" x2="158.80" y2="584.5" stroke="#333" stroke-width="0.6"/>
<text x="158.80" y="586.60" font-size="2.4" fill="#888" text-anchor="middle">30</text>
<text x="87.65" y="588.60" font-size="2.8" fill="#555" text-anchor="middle">Time [min]</text>
<rect x="172.30" y="579.30" width="1.00" height="3.20" fill="#a06838"/>
<rect x="172.10" y="577.00" width="1.4" height="1.6" fill="#a06838" opacity="0.5"/>
<rect x="178.60" y="579.30" width="1.00" height="3.20" fill="#6ad2f8"/>
<rect x="178.40" y="577.00" width="1.4" height="1.6" fill="#6ad2f8" opacity="0.5"/>
<rect x="184.10" y="578.30" width="1.00" height="4.20" fill="#e88830"/>
<rect x="183.90" y="576.00" width="1.4" height="1.6" fill="#e88830" opacity="0.5"/>
<rect x="194.30" y="578.30" width="1.00" height="4.20" fill="#3a9078"/>
<rect x="194.10" y="576.00" width="1.4" height="1.6" fill="#3a9078" opacity="0.5"/>
<rect x="196.30" y="575.30" width="1.00" height="7.20" fill="#60c048"/>
<rect x="196.10" y="573.00" width="1.4" height="1.6" fill="#60c048" opacity="0.5"/>
<rect x="200.50" y="579.30" width="1.00" height="3.20" fill="#a8a8a8"/>
<rect x="200.30" y="577.00" width="1.4" height="1.6" fill="#a8a8a8" opacity="0.5"/>
<rect x="206.00" y="579.30" width="1.00" height="3.20" fill="#60c048"/>
<rect x="205.80" y="577.00" width="1.4" height="1.6" fill="#60c048" opacity="0.5"/>
<rect x="208.40" y="579.30" width="1.00" height="3.20" fill="#d0a058"/>
<rect x="208.20" y="577.00" width="1.4" height="1.6" fill="#d0a058" opacity="0.5"/>
<rect x="211.20" y="577.30" width="1.00" height="5.20" fill="#5aa0f0"/>
<rect x="211.00" y="575.00" width="1.4" height="1.6" fill="#5aa0f0" opacity="0.5"/>
<rect x="213.80" y="558.80" width="1.20" height="23.70" fill="#e060c0"/>
<rect x="213.70" y="556.50" width="1.4" height="1.6" fill="#e060c0" opacity="0.5"/>
<rect x="215.00" y="579.30" width="1.00" height="3.20" fill="#a0a878"/>
<rect x="214.80" y="577.00" width="1.4" height="1.6" fill="#a0a878" opacity="0.5"/>
<rect x="219.10" y="558.00" width="1.20" height="24.50" fill="#7050a8"/>
<rect x="219.00" y="555.70" width="1.4" height="1.6" fill="#7050a8" opacity="0.5"/>
<rect x="220.80" y="547.90" width="1.00" height="34.60" fill="#c0c060"/>
<rect x="220.60" y="545.60" width="1.4" height="1.6" fill="#c0c060" opacity="0.5"/>
<rect x="226.40" y="569.00" width="1.00" height="13.50" fill="#3a9078"/>
<rect x="226.20" y="566.70" width="1.4" height="1.6" fill="#3a9078" opacity="0.5"/>
<rect x="236.90" y="558.80" width="1.00" height="23.70" fill="#60c048"/>
<rect x="236.70" y="556.50" width="1.4" height="1.6" fill="#60c048" opacity="0.5"/>
<rect x="237.70" y="557.30" width="1.00" height="25.20" fill="#5aa0f0"/>
<rect x="237.50" y="555.00" width="1.4" height="1.6" fill="#5aa0f0" opacity="0.5"/>
<rect x="239.00" y="526.70" width="1.00" height="55.80" fill="#6ad2f8"/>
<rect x="238.80" y="524.40" width="1.4" height="1.6" fill="#6ad2f8" opacity="0.5"/>
<rect x="239.00" y="564.30" width="1.00" height="18.20" fill="#a06838"/>
<rect x="238.80" y="562.00" width="1.4" height="1.6" fill="#a06838" opacity="0.5"/>
<rect x="245.10" y="527.80" width="1.20" height="54.70" fill="#f090b4"/>
<rect x="245.00" y="525.50" width="1.4" height="1.6" fill="#f090b4" opacity="0.5"/>
<rect x="249.90" y="540.00" width="1.00" height="42.50" fill="#6ad2f8"/>
<rect x="249.70" y="537.70" width="1.4" height="1.6" fill="#6ad2f8" opacity="0.5"/>
<rect x="251.00" y="556.50" width="1.00" height="26.00" fill="#eca4a0"/>
<rect x="250.80" y="554.20" width="1.4" height="1.6" fill="#eca4a0" opacity="0.5"/>
<rect x="255.00" y="527.80" width="1.00" height="54.70" fill="#6ad2f8"/>
<rect x="254.80" y="525.50" width="1.4" height="1.6" fill="#6ad2f8" opacity="0.5"/>
<rect x="255.00" y="551.80" width="1.00" height="30.70" fill="#3a9078"/>
<rect x="254.80" y="549.50" width="1.4" height="1.6" fill="#3a9078" opacity="0.5"/>
<rect x="258.40" y="546.60" width="1.00" height="35.90" fill="#5aa0f0"/>
<rect x="258.20" y="544.30" width="1.4" height="1.6" fill="#5aa0f0" opacity="0.5"/>
<polygon points="259.55,540.90 260.45,540.90 260.90,545.90 260.90,582.5 259.10,582.5 259.10,545.90" fill="#a06838"/>
<rect x="259.30" y="538.60" width="1.4" height="1.6" fill="#a06838" opacity="0.5"/>
<rect x="273.80" y="563.60" width="1.00" height="18.90" fill="#5aa0f0"/>
<rect x="273.60" y="561.30" width="1.4" height="1.6" fill="#5aa0f0" opacity="0.5"/>
<rect x="277.95" y="539.50" width="1.30" height="43.00" fill="#eca4a0"/>
<rect x="277.90" y="537.20" width="1.4" height="1.6" fill="#eca4a0" opacity="0.5"/>
<rect x="282.10" y="569.00" width="1.20" height="13.50" fill="#60c048"/>
<rect x="282.00" y="566.70" width="1.4" height="1.6" fill="#60c048" opacity="0.5"/>
<rect x="285.20" y="506.40" width="1.00" height="76.10" fill="#789040"/>
<rect x="285.00" y="504.10" width="1.4" height="1.6" fill="#789040" opacity="0.5"/>
<rect x="285.00" y="527.00" width="1.40" height="55.50" fill="#5aa0f0"/>
<rect x="285.00" y="524.70" width="1.4" height="1.6" fill="#5aa0f0" opacity="0.5"/>
<rect x="288.65" y="541.60" width="1.30" height="40.90" fill="#d0a058"/>
<rect x="288.60" y="539.30" width="1.4" height="1.6" fill="#d0a058" opacity="0.5"/>
<rect x="292.40" y="572.50" width="1.00" height="10.00" fill="#60c048"/>
<rect x="292.20" y="570.20" width="1.4" height="1.6" fill="#60c048" opacity="0.5"/>
<rect x="302.40" y="559.50" width="1.00" height="23.00" fill="#c86a6a"/>
<rect x="302.20" y="557.20" width="1.4" height="1.6" fill="#c86a6a" opacity="0.5"/>
<rect x="303.10" y="570.00" width="1.00" height="12.50" fill="#3a9078"/>
<rect x="302.90" y="567.70" width="1.4" height="1.6" fill="#3a9078" opacity="0.5"/>
<rect x="305.40" y="568.00" width="1.00" height="14.50" fill="#a0a878"/>
<rect x="305.20" y="565.70" width="1.4" height="1.6" fill="#a0a878" opacity="0.5"/>
<line x1="168.50" y1="582.50" x2="170.10" y2="582.50" stroke="#555" stroke-width="0.6"/>
<line x1="168.50" y1="579.68" x2="170.10" y2="579.68" stroke="#555" stroke-width="0.6"/>
<line x1="168.50" y1="576.86" x2="170.10" y2="576.86" stroke="#555" stroke-width="0.6"/>
<line x1="168.50" y1="574.04" x2="170.10" y2="574.04" stroke="#555" stroke-width="0.6"/>
<line x1="168.50" y1="571.22" x2="170.10" y2="571.22" stroke="#555" stroke-width="0.6"/>
<line x1="168.50" y1="568.40" x2="170.10" y2="568.40" stroke="#555" stroke-width="0.6"/>
<line x1="168.50" y1="565.58" x2="170.10" y2="565.58" stroke="#555" stroke-width="0.6"/>
<line x1="168.50" y1="562.76" x2="170.10" y2="562.76" stroke="#555" stroke-width="0.6"/>
<line x1="168.50" y1="559.94" x2="170.10" y2="559.94" stroke="#555" stroke-width="0.6"/>
<line x1="168.50" y1="557.12" x2="170.10" y2="557.12" stroke="#555" stroke-width="0.6"/>
<line x1="168.50" y1="554.30" x2="170.10" y2="554.30" stroke="#555" stroke-width="0.6"/>
<line x1="168.50" y1="551.48" x2="170.10" y2="551.48" stroke="#555" stroke-width="0.6"/>
<line x1="168.50" y1="548.66" x2="170.10" y2="548.66" stroke="#555" stroke-width="0.6"/>
<line x1="168.50" y1="545.84" x2="170.10" y2="545.84" stroke="#555" stroke-width="0.6"/>
<line x1="168.50" y1="543.02" x2="170.10" y2="543.02" stroke="#555" stroke-width="0.6"/>
<line x1="168.50" y1="540.20" x2="170.10" y2="540.20" stroke="#555" stroke-width="0.6"/>
<line x1="168.50" y1="537.38" x2="170.10" y2="537.38" stroke="#555" stroke-width="0.6"/>
<line x1="168.50" y1="534.56" x2="170.10" y2="534.56" stroke="#555" stroke-width="0.6"/>
<line x1="168.50" y1="531.74" x2="170.10" y2="531.74" stroke="#555" stroke-width="0.6"/>
<line x1="168.50" y1="528.92" x2="170.10" y2="528.92" stroke="#555" stroke-width="0.6"/>
<line x1="168.50" y1="526.10" x2="170.10" y2="526.10" stroke="#555" stroke-width="0.6"/>
<line x1="168.50" y1="523.28" x2="170.10" y2="523.28" stroke="#555" stroke-width="0.6"/>
<line x1="168.50" y1="520.46" x2="170.10" y2="520.46" stroke="#555" stroke-width="0.6"/>
<line x1="168.50" y1="517.64" x2="170.10" y2="517.64" stroke="#555" stroke-width="0.6"/>
<line x1="168.50" y1="514.82" x2="170.10" y2="514.82" stroke="#555" stroke-width="0.6"/>
<line x1="168.50" y1="512.00" x2="170.10" y2="512.00" stroke="#555" stroke-width="0.6"/>
<line x1="168.50" y1="509.18" x2="170.10" y2="509.18" stroke="#555" stroke-width="0.6"/>
<line x1="168.50" y1="506.36" x2="170.10" y2="506.36" stroke="#555" stroke-width="0.6"/>
<line x1="168.50" y1="503.54" x2="170.10" y2="503.54" stroke="#555" stroke-width="0.6"/>
<line x1="168.50" y1="500.72" x2="170.10" y2="500.72" stroke="#555" stroke-width="0.6"/>
<line x1="165.10" y1="582.50" x2="167.70" y2="582.50" stroke="#999" stroke-width="0.8"/>
<line x1="165.10" y1="568.40" x2="167.70" y2="568.40" stroke="#999" stroke-width="0.8"/>
<line x1="165.10" y1="554.30" x2="167.70" y2="554.30" stroke="#999" stroke-width="0.8"/>
<line x1="165.10" y1="540.20" x2="167.70" y2="540.20" stroke="#999" stroke-width="0.8"/>
<line x1="165.10" y1="526.10" x2="167.70" y2="526.10" stroke="#999" stroke-width="0.8"/>
<line x1="165.10" y1="512.00" x2="167.70" y2="512.00" stroke="#999" stroke-width="0.8"/>
<line x1="165.10" y1="497.90" x2="167.70" y2="497.90" stroke="#999" stroke-width="0.8"/>
<line x1="164.50" y1="534.25" x2="164.50" y2="545.25" stroke="#888" stroke-width="0.8"/>
<line x1="164.50" y1="542.25" x2="164.50" y2="545.25" stroke="#444" stroke-width="0.9"/>
<line x1="169.3" y1="498.0" x2="169.3" y2="583.0" stroke="#333" stroke-width="1.0"/>
<line x1="168.8" y1="582.30" x2="310.7" y2="582.30" stroke="#111" stroke-width="0.95"/>
<line x1="169.30" y1="582.5" x2="169.30" y2="584.0" stroke="#333" stroke-width="0.6"/>
<line x1="192.87" y1="582.5" x2="192.87" y2="584.0" stroke="#333" stroke-width="0.6"/>
<text x="192.87" y="586.10" font-size="2.4" fill="#888" text-anchor="middle">5</text>
<line x1="216.43" y1="582.5" x2="216.43" y2="584.0" stroke="#333" stroke-width="0.6"/>
<text x="216.43" y="586.10" font-size="2.4" fill="#888" text-anchor="middle">10</text>
<line x1="240.00" y1="582.5" x2="240.00" y2="584.0" stroke="#333" stroke-width="0.6"/>
<text x="240.00" y="586.10" font-size="2.4" fill="#888" text-anchor="middle">15</text>
<line x1="263.57" y1="582.5" x2="263.57" y2="584.0" stroke="#333" stroke-width="0.6"/>
<text x="263.57" y="586.10" font-size="2.4" fill="#888" text-anchor="middle">20</text>
<line x1="287.13" y1="582.5" x2="287.13" y2="584.0" stroke="#333" stroke-width="0.6"/>
<text x="287.13" y="586.10" font-size="2.4" fill="#888" text-anchor="middle">25</text>
<line x1="310.70" y1="582.5" x2="310.70" y2="584.0" stroke="#333" stroke-width="0.6"/>
<text x="310.70" y="586.10" font-size="2.4" fill="#888" text-anchor="middle">30</text>
<text x="240.00" y="588.10" font-size="2.8" fill="#555" text-anchor="middle">Time [min]</text>
<rect x="20.80" y="672.00" width="1.00" height="3.30" fill="#a8a8a8"/>
<rect x="20.60" y="669.70" width="1.4" height="1.6" fill="#a8a8a8" opacity="0.5"/>
<rect x="22.70" y="670.00" width="1.00" height="5.30" fill="#6ad2f8"/>
<rect x="22.50" y="667.70" width="1.4" height="1.6" fill="#6ad2f8" opacity="0.5"/>
<rect x="25.80" y="672.00" width="1.00" height="3.30" fill="#3a9078"/>
<rect x="25.60" y="669.70" width="1.4" height="1.6" fill="#3a9078" opacity="0.5"/>
<rect x="27.00" y="672.00" width="1.00" height="3.30" fill="#60c048"/>
<rect x="26.80" y="669.70" width="1.4" height="1.6" fill="#60c048" opacity="0.5"/>
<rect x="30.20" y="673.00" width="1.00" height="2.30" fill="#a8a8a8"/>
<rect x="42.40" y="672.00" width="1.00" height="3.30" fill="#60c048"/>
<rect x="42.20" y="669.70" width="1.4" height="1.6" fill="#60c048" opacity="0.5"/>
<rect x="46.60" y="673.00" width="1.00" height="2.30" fill="#7050a8"/>
<rect x="50.90" y="671.00" width="1.00" height="4.30" fill="#3a9078"/>
<rect x="50.70" y="668.70" width="1.4" height="1.6" fill="#3a9078" opacity="0.5"/>
<rect x="54.90" y="672.00" width="1.00" height="3.30" fill="#6ad2f8"/>
<rect x="54.70" y="669.70" width="1.4" height="1.6" fill="#6ad2f8" opacity="0.5"/>
<rect x="52.90" y="649.10" width="1.00" height="26.20" fill="#e060c0"/>
<rect x="52.70" y="646.80" width="1.4" height="1.6" fill="#e060c0" opacity="0.5"/>
<rect x="56.80" y="655.00" width="1.00" height="20.30" fill="#5aa0f0"/>
<rect x="56.60" y="652.70" width="1.4" height="1.6" fill="#5aa0f0" opacity="0.5"/>
<rect x="58.10" y="649.90" width="1.00" height="25.40" fill="#5aa0f0"/>
<rect x="57.90" y="647.60" width="1.4" height="1.6" fill="#5aa0f0" opacity="0.5"/>
<rect x="60.70" y="646.00" width="1.00" height="29.30" fill="#c0c060"/>
<rect x="60.50" y="643.70" width="1.4" height="1.6" fill="#c0c060" opacity="0.5"/>
<rect x="63.90" y="673.00" width="1.00" height="2.30" fill="#7050a8"/>
<rect x="69.20" y="663.50" width="1.00" height="11.80" fill="#3a9078"/>
<rect x="69.00" y="661.20" width="1.4" height="1.6" fill="#3a9078" opacity="0.5"/>
<rect x="74.40" y="649.10" width="1.00" height="26.20" fill="#6ad2f8"/>
<rect x="74.20" y="646.80" width="1.4" height="1.6" fill="#6ad2f8" opacity="0.5"/>
<rect x="76.00" y="647.60" width="1.00" height="27.70" fill="#60c048"/>
<rect x="75.80" y="645.30" width="1.4" height="1.6" fill="#60c048" opacity="0.5"/>
<rect x="76.30" y="660.00" width="1.00" height="15.30" fill="#e88830"/>
<rect x="76.10" y="657.70" width="1.4" height="1.6" fill="#e88830" opacity="0.5"/>
<rect x="77.50" y="628.00" width="1.00" height="47.30" fill="#6ad2f8"/>
<rect x="77.30" y="625.70" width="1.4" height="1.6" fill="#6ad2f8" opacity="0.5"/>
<rect x="81.30" y="619.00" width="1.20" height="56.30" fill="#f090b4"/>
<rect x="81.20" y="616.70" width="1.4" height="1.6" fill="#f090b4" opacity="0.5"/>
<rect x="82.70" y="671.00" width="1.00" height="4.30" fill="#5aa0f0"/>
<rect x="82.50" y="668.70" width="1.4" height="1.6" fill="#5aa0f0" opacity="0.5"/>
<rect x="85.40" y="636.90" width="1.00" height="38.40" fill="#6ad2f8"/>
<rect x="85.20" y="634.60" width="1.4" height="1.6" fill="#6ad2f8" opacity="0.5"/>
<rect x="90.50" y="624.80" width="1.00" height="50.50" fill="#6ad2f8"/>
<rect x="90.30" y="622.50" width="1.4" height="1.6" fill="#6ad2f8" opacity="0.5"/>
<rect x="90.50" y="641.00" width="1.00" height="34.30" fill="#3a9078"/>
<rect x="90.30" y="638.70" width="1.4" height="1.6" fill="#3a9078" opacity="0.5"/>
<rect x="93.00" y="633.50" width="1.40" height="41.80" fill="#a06838"/>
<rect x="93.00" y="631.20" width="1.4" height="1.6" fill="#a06838" opacity="0.5"/>
<rect x="95.40" y="640.50" width="1.20" height="34.80" fill="#b86850"/>
<rect x="95.30" y="638.20" width="1.4" height="1.6" fill="#b86850" opacity="0.5"/>
<rect x="97.90" y="643.60" width="1.00" height="31.70" fill="#60c048"/>
<rect x="97.70" y="641.30" width="1.4" height="1.6" fill="#60c048" opacity="0.5"/>
<rect x="109.30" y="658.50" width="1.00" height="16.80" fill="#6ad2f8"/>
<rect x="109.10" y="656.20" width="1.4" height="1.6" fill="#6ad2f8" opacity="0.5"/>
<rect x="109.90" y="657.70" width="1.00" height="17.60" fill="#6ad2f8"/>
<rect x="109.70" y="655.40" width="1.4" height="1.6" fill="#6ad2f8" opacity="0.5"/>
<rect x="112.90" y="634.80" width="1.00" height="40.50" fill="#b86850"/>
<rect x="112.70" y="632.50" width="1.4" height="1.6" fill="#b86850" opacity="0.5"/>
<rect x="115.80" y="604.40" width="1.00" height="70.90" fill="#a0a878"/>
<rect x="115.60" y="602.10" width="1.4" height="1.6" fill="#a0a878" opacity="0.5"/>
<rect x="115.65" y="626.40" width="1.30" height="48.90" fill="#5aa0f0"/>
<rect x="115.60" y="624.10" width="1.4" height="1.6" fill="#5aa0f0" opacity="0.5"/>
<polygon points="116.75,655.90 117.65,655.90 118.10,660.75 118.10,675.3 116.30,675.3 116.30,660.75" fill="#60c048"/>
<rect x="116.50" y="653.60" width="1.4" height="1.6" fill="#60c048" opacity="0.5"/>
<polygon points="121.15,626.40 122.05,626.40 122.50,631.40 122.50,675.3 120.70,675.3 120.70,631.40" fill="#d0a058"/>
<rect x="120.90" y="624.10" width="1.4" height="1.6" fill="#d0a058" opacity="0.5"/>
<rect x="122.70" y="664.80" width="1.00" height="10.50" fill="#70d8a0"/>
<rect x="122.50" y="662.50" width="1.4" height="1.6" fill="#70d8a0" opacity="0.5"/>
<rect x="134.00" y="661.30" width="1.00" height="14.00" fill="#c86a6a"/>
<rect x="133.80" y="659.00" width="1.4" height="1.6" fill="#c86a6a" opacity="0.5"/>
<rect x="141.00" y="659.50" width="1.20" height="15.80" fill="#60c048"/>
<rect x="140.90" y="657.20" width="1.4" height="1.6" fill="#60c048" opacity="0.5"/>
<line x1="17.60" y1="675.30" x2="19.20" y2="675.30" stroke="#555" stroke-width="0.6"/>
<line x1="17.60" y1="672.50" x2="19.20" y2="672.50" stroke="#555" stroke-width="0.6"/>
<line x1="17.60" y1="669.70" x2="19.20" y2="669.70" stroke="#555" stroke-width="0.6"/>
<line x1="17.60" y1="666.90" x2="19.20" y2="666.90" stroke="#555" stroke-width="0.6"/>
<line x1="17.60" y1="664.10" x2="19.20" y2="664.10" stroke="#555" stroke-width="0.6"/>
<line x1="17.60" y1="661.30" x2="19.20" y2="661.30" stroke="#555" stroke-width="0.6"/>
<line x1="17.60" y1="658.50" x2="19.20" y2="658.50" stroke="#555" stroke-width="0.6"/>
<line x1="17.60" y1="655.70" x2="19.20" y2="655.70" stroke="#555" stroke-width="0.6"/>
<line x1="17.60" y1="652.90" x2="19.20" y2="652.90" stroke="#555" stroke-width="0.6"/>
<line x1="17.60" y1="650.10" x2="19.20" y2="650.10" stroke="#555" stroke-width="0.6"/>
<line x1="17.60" y1="647.30" x2="19.20" y2="647.30" stroke="#555" stroke-width="0.6"/>
<line x1="17.60" y1="644.50" x2="19.20" y2="644.50" stroke="#555" stroke-width="0.6"/>
<line x1="17.60" y1="641.70" x2="19.20" y2="641.70" stroke="#555" stroke-width="0.6"/>
<line x1="17.60" y1="638.90" x2="19.20" y2="638.90" stroke="#555" stroke-width="0.6"/>
<line x1="17.60" y1="636.10" x2="19.20" y2="636.10" stroke="#555" stroke-width="0.6"/>
<line x1="17.60" y1="633.30" x2="19.20" y2="633.30" stroke="#555" stroke-width="0.6"/>
<line x1="17.60" y1="630.50" x2="19.20" y2="630.50" stroke="#555" stroke-width="0.6"/>
<line x1="17.60" y1="627.70" x2="19.20" y2="627.70" stroke="#555" stroke-width="0.6"/>
<line x1="17.60" y1="624.90" x2="19.20" y2="624.90" stroke="#555" stroke-width="0.6"/>
<line x1="17.60" y1="622.10" x2="19.20" y2="622.10" stroke="#555" stroke-width="0.6"/>
<line x1="17.60" y1="619.30" x2="19.20" y2="619.30" stroke="#555" stroke-width="0.6"/>
<line x1="17.60" y1="616.50" x2="19.20" y2="616.50" stroke="#555" stroke-width="0.6"/>
<line x1="17.60" y1="613.70" x2="19.20" y2="613.70" stroke="#555" stroke-width="0.6"/>
<line x1="17.60" y1="610.90" x2="19.20" y2="610.90" stroke="#555" stroke-width="0.6"/>
<line x1="17.60" y1="608.10" x2="19.20" y2="608.10" stroke="#555" stroke-width="0.6"/>
<line x1="17.60" y1="605.30" x2="19.20" y2="605.30" stroke="#555" stroke-width="0.6"/>
<line x1="17.60" y1="602.50" x2="19.20" y2="602.50" stroke="#555" stroke-width="0.6"/>
<line x1="17.60" y1="599.70" x2="19.20" y2="599.70" stroke="#555" stroke-width="0.6"/>
<line x1="17.60" y1="596.90" x2="19.20" y2="596.90" stroke="#555" stroke-width="0.6"/>
<line x1="17.60" y1="594.10" x2="19.20" y2="594.10" stroke="#555" stroke-width="0.6"/>
<line x1="17.60" y1="591.30" x2="19.20" y2="591.30" stroke="#555" stroke-width="0.6"/>
<line x1="14.20" y1="675.30" x2="16.80" y2="675.30" stroke="#999" stroke-width="0.8"/>
<line x1="14.20" y1="661.30" x2="16.80" y2="661.30" stroke="#999" stroke-width="0.8"/>
<line x1="14.20" y1="647.30" x2="16.80" y2="647.30" stroke="#999" stroke-width="0.8"/>
<line x1="14.20" y1="633.30" x2="16.80" y2="633.30" stroke="#999" stroke-width="0.8"/>
<line x1="14.20" y1="619.30" x2="16.80" y2="619.30" stroke="#999" stroke-width="0.8"/>
<line x1="14.20" y1="605.30" x2="16.80" y2="605.30" stroke="#999" stroke-width="0.8"/>
<line x1="14.20" y1="591.30" x2="16.80" y2="591.30" stroke="#999" stroke-width="0.8"/>
<line x1="13.60" y1="627.00" x2="13.60" y2="638.00" stroke="#888" stroke-width="0.8"/>
<line x1="13.60" y1="635.00" x2="13.60" y2="638.00" stroke="#444" stroke-width="0.9"/>
<line x1="18.4" y1="590.7" x2="18.4" y2="675.8" stroke="#333" stroke-width="1.0"/>
<line x1="17.9" y1="675.10" x2="158.8" y2="675.10" stroke="#111" stroke-width="0.95"/>
<line x1="18.40" y1="675.3" x2="18.40" y2="676.8" stroke="#333" stroke-width="0.6"/>
<line x1="41.80" y1="675.3" x2="41.80" y2="676.8" stroke="#333" stroke-width="0.6"/>
<text x="41.80" y="678.90" font-size="2.4" fill="#888" text-anchor="middle">5</text>
<line x1="65.20" y1="675.3" x2="65.20" y2="676.8" stroke="#333" stroke-width="0.6"/>
<text x="65.20" y="678.90" font-size="2.4" fill="#888" text-anchor="middle">10</text>
<line x1="88.60" y1="675.3" x2="88.60" y2="676.8" stroke="#333" stroke-width="0.6"/>
<text x="88.60" y="678.90" font-size="2.4" fill="#888" text-anchor="middle">15</text>
<line x1="112.00" y1="675.3" x2="112.00" y2="676.8" stroke="#333" stroke-width="0.6"/>
<text x="112.00" y="678.90" font-size="2.4" fill="#888" text-anchor="middle">20</text>
<line x1="135.40" y1="675.3" x2="135.40" y2="676.8" stroke="#333" stroke-width="0.6"/>
<text x="135.40" y="678.90" font-size="2.4" fill="#888" text-anchor="middle">25</text>
<line x1="158.80" y1="675.3" x2="158.80" y2="676.8" stroke="#333" stroke-width="0.6"/>
<text x="158.80" y="678.90" font-size="2.4" fill="#888" text-anchor="middle">30</text>
<text x="88.60" y="680.90" font-size="2.8" fill="#555" text-anchor="middle">Time [min]</text>
<text x="23.8" y="35.0" font-weight="bold" font-size="7.95" fill="#1f6cc1" stroke="#1f6cc1" stroke-width="0.08" textLength="65.2" lengthAdjust="spacingAndGlyphs">Kinetex<tspan font-size="4.8" dy="-2.0">®</tspan><tspan dy="2.0"> </tspan>2.6 µm C18</text>
<text x="176.7" y="35.0" font-weight="bold" font-size="7.95" fill="#1f6cc1" stroke="#1f6cc1" stroke-width="0.08" textLength="59.3" lengthAdjust="spacingAndGlyphs">Kinetex 2.6 µm F5</text>
<text x="24.0" y="129.0" font-weight="bold" font-size="7.95" fill="#1f6cc1" stroke="#1f6cc1" stroke-width="0.08" textLength="76.7" lengthAdjust="spacingAndGlyphs">Kinetex 2.6 µm XB-C18</text>
<text x="172.9" y="129.0" font-weight="bold" font-size="9.23" fill="#1f6cc1" stroke="#1f6cc1" stroke-width="0.08" textLength="80.6" lengthAdjust="spacingAndGlyphs">Luna<tspan font-size="4.6" dy="-2.2">TM</tspan><tspan dy="2.2"> </tspan>Omega 3 µm C18</text>
<text x="26.0" y="223.5" font-weight="bold" font-size="8.52" fill="#1f6cc1" stroke="#1f6cc1" stroke-width="0.08" textLength="81.3" lengthAdjust="spacingAndGlyphs">Kinetex 2.6 µm Polar C18</text>
<text x="173.5" y="224.0" font-weight="bold" font-size="9.23" fill="#1f6cc1" stroke="#1f6cc1" stroke-width="0.08" textLength="92.2" lengthAdjust="spacingAndGlyphs">Luna Omega 3 µm  Polar C18</text>
<text x="28.6" y="314.5" font-weight="bold" font-size="7.10" fill="#1f6cc1" stroke="#1f6cc1" stroke-width="0.08" textLength="72.1" lengthAdjust="spacingAndGlyphs">Kinetex 2.6 µm PS C18</text>
<text x="171.0" y="313.0" font-weight="bold" font-size="7.81" fill="#1f6cc1" stroke="#1f6cc1" stroke-width="0.08" textLength="81.9" lengthAdjust="spacingAndGlyphs">Luna Omega 3 µm PS C18</text>
<text x="24.5" y="407.7" font-weight="bold" font-size="7.24" fill="#1f6cc1" stroke="#1f6cc1" stroke-width="0.08" textLength="78.4" lengthAdjust="spacingAndGlyphs">Kinetex 2.6 µm Biphenyl</text>
<text x="172.3" y="408.0" font-weight="bold" font-size="8.52" fill="#1f6cc1" stroke="#1f6cc1" stroke-width="0.08" textLength="105.5" lengthAdjust="spacingAndGlyphs">Biozen<tspan font-size="4.6" dy="-2.2">TM</tspan><tspan dy="2.2"> </tspan>2.6 µm Peptide XB-C18</text>
<text x="28.6" y="506.0" font-weight="bold" font-size="8.09" fill="#1f6cc1" stroke="#1f6cc1" stroke-width="0.08" textLength="93.7" lengthAdjust="spacingAndGlyphs">Kinetex 2.6 µm  Phenyl Hexyl</text>
<text x="176.7" y="506.0" font-weight="bold" font-size="8.52" fill="#1f6cc1" stroke="#1f6cc1" stroke-width="0.08" textLength="104.9" lengthAdjust="spacingAndGlyphs">Biozen 1.6 µm Peptide Polar C18</text>
<text x="30.5" y="595.8" font-weight="bold" font-size="8.80" fill="#1f6cc1" stroke="#1f6cc1" stroke-width="0.08" textLength="93.1" lengthAdjust="spacingAndGlyphs">Biozen Peptide 3 µm  PS C18</text>
<text transform="translate(156.10,40.6) rotate(90)" x="0" y="0" font-size="4.6" fill="#1a1a1a" stroke="#1a1a1a" stroke-width="0.08" textLength="35.4" lengthAdjust="spacingAndGlyphs">App ID: 28475</text>
<text transform="translate(299.10,42.4) rotate(90)" x="0" y="0" font-size="4.6" fill="#1a1a1a" stroke="#1a1a1a" stroke-width="0.08" textLength="34.6" lengthAdjust="spacingAndGlyphs">App ID: 28476</text>
<text transform="translate(156.10,121.3) rotate(90)" x="0" y="0" font-size="4.6" fill="#1a1a1a" stroke="#1a1a1a" stroke-width="0.08" textLength="35.7" lengthAdjust="spacingAndGlyphs">App ID: 28477</text>
<text transform="translate(299.10,122.4) rotate(90)" x="0" y="0" font-size="4.6" fill="#1a1a1a" stroke="#1a1a1a" stroke-width="0.08" textLength="34.6" lengthAdjust="spacingAndGlyphs">App ID: 28478</text>
<text transform="translate(152.60,217.2) rotate(90)" x="0" y="0" font-size="4.6" fill="#1a1a1a" stroke="#1a1a1a" stroke-width="0.08" textLength="33.8" lengthAdjust="spacingAndGlyphs">App ID: 28479</text>
<text transform="translate(299.40,221.5) rotate(90)" x="0" y="0" font-size="4.6" fill="#1a1a1a" stroke="#1a1a1a" stroke-width="0.08" textLength="34.6" lengthAdjust="spacingAndGlyphs">App ID: 28480</text>
<text transform="translate(152.70,303.6) rotate(90)" x="0" y="0" font-size="4.6" fill="#1a1a1a" stroke="#1a1a1a" stroke-width="0.08" textLength="34.3" lengthAdjust="spacingAndGlyphs">App ID: 28481</text>
<text transform="translate(299.10,312.4) rotate(90)" x="0" y="0" font-size="4.6" fill="#1a1a1a" stroke="#1a1a1a" stroke-width="0.08" textLength="34.6" lengthAdjust="spacingAndGlyphs">App ID: 28482</text>
<text transform="translate(150.30,401.0) rotate(90)" x="0" y="0" font-size="4.6" fill="#1a1a1a" stroke="#1a1a1a" stroke-width="0.08" textLength="35.0" lengthAdjust="spacingAndGlyphs">App ID: 28483</text>
<text transform="translate(300.50,399.9) rotate(90)" x="0" y="0" font-size="4.6" fill="#1a1a1a" stroke="#1a1a1a" stroke-width="0.08" textLength="34.8" lengthAdjust="spacingAndGlyphs">App ID: 28484</text>
<text transform="translate(150.30,499.4) rotate(90)" x="0" y="0" font-size="4.6" fill="#1a1a1a" stroke="#1a1a1a" stroke-width="0.08" textLength="34.6" lengthAdjust="spacingAndGlyphs">App ID: 28485</text>
<text transform="translate(301.40,502.6) rotate(90)" x="0" y="0" font-size="4.6" fill="#1a1a1a" stroke="#1a1a1a" stroke-width="0.08" textLength="35.4" lengthAdjust="spacingAndGlyphs">App ID: 28486</text>
<text transform="translate(151.90,598.4) rotate(90)" x="0" y="0" font-size="4.6" fill="#1a1a1a" stroke="#1a1a1a" stroke-width="0.08" textLength="34.6" lengthAdjust="spacingAndGlyphs">App ID: 28487</text>
</svg>
</body></html>
